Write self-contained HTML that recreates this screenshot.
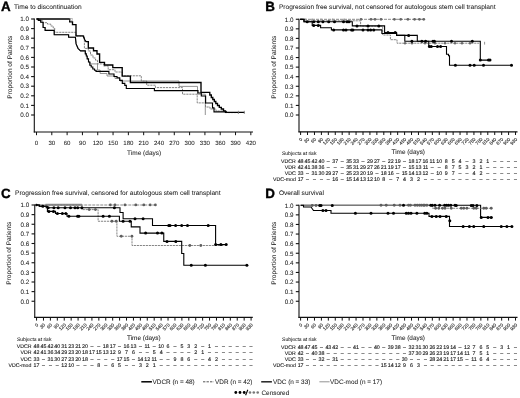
<!DOCTYPE html>
<html><head><meta charset="utf-8"><style>
html,body{margin:0;padding:0;background:#fff;}
svg{display:block;will-change:transform;filter:blur(0.3px);}
text{font-family:"Liberation Sans", sans-serif;text-rendering:geometricPrecision;}
</style></head><body>
<svg width="520" height="398" viewBox="0 0 520 398">
<rect width="520" height="398" fill="#fff"/>
<text x="0.90" y="10.90" font-size="13.4" text-anchor="start" font-weight="bold" fill="#000" stroke="#000" stroke-width="0.35">A</text>
<text x="14.00" y="9.00" font-size="6.6" text-anchor="start" font-weight="normal" fill="#1a1a1a"  stroke="#1a1a1a" stroke-width="0.04">Time to discontinuation</text>
<line x1="34.30" y1="18.50" x2="34.30" y2="132.50" stroke="#111" stroke-width="1.1" />
<line x1="31.10" y1="115.00" x2="34.30" y2="115.00" stroke="#111" stroke-width="1.1" />
<text x="28.90" y="117.25" font-size="6.3" text-anchor="end" font-weight="normal" fill="#1a1a1a"  stroke="#1a1a1a" stroke-width="0.04">0.0</text>
<line x1="31.10" y1="105.40" x2="34.30" y2="105.40" stroke="#111" stroke-width="1.1" />
<text x="28.90" y="107.65" font-size="6.3" text-anchor="end" font-weight="normal" fill="#1a1a1a"  stroke="#1a1a1a" stroke-width="0.04">0.1</text>
<line x1="31.10" y1="95.80" x2="34.30" y2="95.80" stroke="#111" stroke-width="1.1" />
<text x="28.90" y="98.05" font-size="6.3" text-anchor="end" font-weight="normal" fill="#1a1a1a"  stroke="#1a1a1a" stroke-width="0.04">0.2</text>
<line x1="31.10" y1="86.20" x2="34.30" y2="86.20" stroke="#111" stroke-width="1.1" />
<text x="28.90" y="88.45" font-size="6.3" text-anchor="end" font-weight="normal" fill="#1a1a1a"  stroke="#1a1a1a" stroke-width="0.04">0.3</text>
<line x1="31.10" y1="76.60" x2="34.30" y2="76.60" stroke="#111" stroke-width="1.1" />
<text x="28.90" y="78.85" font-size="6.3" text-anchor="end" font-weight="normal" fill="#1a1a1a"  stroke="#1a1a1a" stroke-width="0.04">0.4</text>
<line x1="31.10" y1="67.00" x2="34.30" y2="67.00" stroke="#111" stroke-width="1.1" />
<text x="28.90" y="69.25" font-size="6.3" text-anchor="end" font-weight="normal" fill="#1a1a1a"  stroke="#1a1a1a" stroke-width="0.04">0.5</text>
<line x1="31.10" y1="57.40" x2="34.30" y2="57.40" stroke="#111" stroke-width="1.1" />
<text x="28.90" y="59.65" font-size="6.3" text-anchor="end" font-weight="normal" fill="#1a1a1a"  stroke="#1a1a1a" stroke-width="0.04">0.6</text>
<line x1="31.10" y1="47.80" x2="34.30" y2="47.80" stroke="#111" stroke-width="1.1" />
<text x="28.90" y="50.05" font-size="6.3" text-anchor="end" font-weight="normal" fill="#1a1a1a"  stroke="#1a1a1a" stroke-width="0.04">0.7</text>
<line x1="31.10" y1="38.20" x2="34.30" y2="38.20" stroke="#111" stroke-width="1.1" />
<text x="28.90" y="40.45" font-size="6.3" text-anchor="end" font-weight="normal" fill="#1a1a1a"  stroke="#1a1a1a" stroke-width="0.04">0.8</text>
<line x1="31.10" y1="28.60" x2="34.30" y2="28.60" stroke="#111" stroke-width="1.1" />
<text x="28.90" y="30.85" font-size="6.3" text-anchor="end" font-weight="normal" fill="#1a1a1a"  stroke="#1a1a1a" stroke-width="0.04">0.9</text>
<line x1="31.10" y1="19.00" x2="34.30" y2="19.00" stroke="#111" stroke-width="1.1" />
<text x="28.90" y="21.25" font-size="6.3" text-anchor="end" font-weight="normal" fill="#1a1a1a"  stroke="#1a1a1a" stroke-width="0.04">1.0</text>
<text x="12.30" y="67.20" font-size="6.55" text-anchor="middle" font-weight="normal" fill="#1a1a1a" transform="rotate(-90 12.30 67.20)" stroke="#1a1a1a" stroke-width="0.04">Proportion of Patients</text>
<line x1="33.80" y1="132.00" x2="253.00" y2="132.00" stroke="#111" stroke-width="1.2" />
<line x1="36.50" y1="132.00" x2="36.50" y2="135.20" stroke="#111" stroke-width="1.0" />
<text x="36.50" y="144.60" font-size="6.1" text-anchor="middle" font-weight="normal" fill="#1a1a1a"  stroke="#1a1a1a" stroke-width="0.04">0</text>
<line x1="51.81" y1="132.00" x2="51.81" y2="135.20" stroke="#111" stroke-width="1.0" />
<text x="51.81" y="144.60" font-size="6.1" text-anchor="middle" font-weight="normal" fill="#1a1a1a"  stroke="#1a1a1a" stroke-width="0.04">30</text>
<line x1="67.12" y1="132.00" x2="67.12" y2="135.20" stroke="#111" stroke-width="1.0" />
<text x="67.12" y="144.60" font-size="6.1" text-anchor="middle" font-weight="normal" fill="#1a1a1a"  stroke="#1a1a1a" stroke-width="0.04">60</text>
<line x1="82.43" y1="132.00" x2="82.43" y2="135.20" stroke="#111" stroke-width="1.0" />
<text x="82.43" y="144.60" font-size="6.1" text-anchor="middle" font-weight="normal" fill="#1a1a1a"  stroke="#1a1a1a" stroke-width="0.04">90</text>
<line x1="97.74" y1="132.00" x2="97.74" y2="135.20" stroke="#111" stroke-width="1.0" />
<text x="97.74" y="144.60" font-size="6.1" text-anchor="middle" font-weight="normal" fill="#1a1a1a"  stroke="#1a1a1a" stroke-width="0.04">120</text>
<line x1="113.05" y1="132.00" x2="113.05" y2="135.20" stroke="#111" stroke-width="1.0" />
<text x="113.05" y="144.60" font-size="6.1" text-anchor="middle" font-weight="normal" fill="#1a1a1a"  stroke="#1a1a1a" stroke-width="0.04">150</text>
<line x1="128.36" y1="132.00" x2="128.36" y2="135.20" stroke="#111" stroke-width="1.0" />
<text x="128.36" y="144.60" font-size="6.1" text-anchor="middle" font-weight="normal" fill="#1a1a1a"  stroke="#1a1a1a" stroke-width="0.04">180</text>
<line x1="143.67" y1="132.00" x2="143.67" y2="135.20" stroke="#111" stroke-width="1.0" />
<text x="143.67" y="144.60" font-size="6.1" text-anchor="middle" font-weight="normal" fill="#1a1a1a"  stroke="#1a1a1a" stroke-width="0.04">210</text>
<line x1="158.98" y1="132.00" x2="158.98" y2="135.20" stroke="#111" stroke-width="1.0" />
<text x="158.98" y="144.60" font-size="6.1" text-anchor="middle" font-weight="normal" fill="#1a1a1a"  stroke="#1a1a1a" stroke-width="0.04">240</text>
<line x1="174.29" y1="132.00" x2="174.29" y2="135.20" stroke="#111" stroke-width="1.0" />
<text x="174.29" y="144.60" font-size="6.1" text-anchor="middle" font-weight="normal" fill="#1a1a1a"  stroke="#1a1a1a" stroke-width="0.04">270</text>
<line x1="189.60" y1="132.00" x2="189.60" y2="135.20" stroke="#111" stroke-width="1.0" />
<text x="189.60" y="144.60" font-size="6.1" text-anchor="middle" font-weight="normal" fill="#1a1a1a"  stroke="#1a1a1a" stroke-width="0.04">300</text>
<line x1="204.91" y1="132.00" x2="204.91" y2="135.20" stroke="#111" stroke-width="1.0" />
<text x="204.91" y="144.60" font-size="6.1" text-anchor="middle" font-weight="normal" fill="#1a1a1a"  stroke="#1a1a1a" stroke-width="0.04">330</text>
<line x1="220.22" y1="132.00" x2="220.22" y2="135.20" stroke="#111" stroke-width="1.0" />
<text x="220.22" y="144.60" font-size="6.1" text-anchor="middle" font-weight="normal" fill="#1a1a1a"  stroke="#1a1a1a" stroke-width="0.04">360</text>
<line x1="235.53" y1="132.00" x2="235.53" y2="135.20" stroke="#111" stroke-width="1.0" />
<text x="235.53" y="144.60" font-size="6.1" text-anchor="middle" font-weight="normal" fill="#1a1a1a"  stroke="#1a1a1a" stroke-width="0.04">390</text>
<line x1="250.84" y1="132.00" x2="250.84" y2="135.20" stroke="#111" stroke-width="1.0" />
<text x="250.84" y="144.60" font-size="6.1" text-anchor="middle" font-weight="normal" fill="#1a1a1a"  stroke="#1a1a1a" stroke-width="0.04">420</text>
<text x="144.15" y="154.70" font-size="6.5" text-anchor="middle" font-weight="normal" fill="#1a1a1a"  stroke="#1a1a1a" stroke-width="0.04">Time (days)</text>
<text x="265.20" y="10.90" font-size="13.4" text-anchor="start" font-weight="bold" fill="#000" stroke="#000" stroke-width="0.35">B</text>
<text x="278.90" y="9.00" font-size="6.6" text-anchor="start" font-weight="normal" fill="#1a1a1a"  stroke="#1a1a1a" stroke-width="0.04">Progression free survival, not censored for autologous stem cell transplant</text>
<line x1="299.00" y1="18.75" x2="299.00" y2="132.30" stroke="#111" stroke-width="1.1" />
<line x1="295.80" y1="115.00" x2="299.00" y2="115.00" stroke="#111" stroke-width="1.1" />
<text x="293.60" y="117.25" font-size="6.3" text-anchor="end" font-weight="normal" fill="#1a1a1a"  stroke="#1a1a1a" stroke-width="0.04">0.0</text>
<line x1="295.80" y1="105.42" x2="299.00" y2="105.42" stroke="#111" stroke-width="1.1" />
<text x="293.60" y="107.67" font-size="6.3" text-anchor="end" font-weight="normal" fill="#1a1a1a"  stroke="#1a1a1a" stroke-width="0.04">0.1</text>
<line x1="295.80" y1="95.85" x2="299.00" y2="95.85" stroke="#111" stroke-width="1.1" />
<text x="293.60" y="98.10" font-size="6.3" text-anchor="end" font-weight="normal" fill="#1a1a1a"  stroke="#1a1a1a" stroke-width="0.04">0.2</text>
<line x1="295.80" y1="86.28" x2="299.00" y2="86.28" stroke="#111" stroke-width="1.1" />
<text x="293.60" y="88.53" font-size="6.3" text-anchor="end" font-weight="normal" fill="#1a1a1a"  stroke="#1a1a1a" stroke-width="0.04">0.3</text>
<line x1="295.80" y1="76.70" x2="299.00" y2="76.70" stroke="#111" stroke-width="1.1" />
<text x="293.60" y="78.95" font-size="6.3" text-anchor="end" font-weight="normal" fill="#1a1a1a"  stroke="#1a1a1a" stroke-width="0.04">0.4</text>
<line x1="295.80" y1="67.12" x2="299.00" y2="67.12" stroke="#111" stroke-width="1.1" />
<text x="293.60" y="69.38" font-size="6.3" text-anchor="end" font-weight="normal" fill="#1a1a1a"  stroke="#1a1a1a" stroke-width="0.04">0.5</text>
<line x1="295.80" y1="57.55" x2="299.00" y2="57.55" stroke="#111" stroke-width="1.1" />
<text x="293.60" y="59.80" font-size="6.3" text-anchor="end" font-weight="normal" fill="#1a1a1a"  stroke="#1a1a1a" stroke-width="0.04">0.6</text>
<line x1="295.80" y1="47.97" x2="299.00" y2="47.97" stroke="#111" stroke-width="1.1" />
<text x="293.60" y="50.22" font-size="6.3" text-anchor="end" font-weight="normal" fill="#1a1a1a"  stroke="#1a1a1a" stroke-width="0.04">0.7</text>
<line x1="295.80" y1="38.40" x2="299.00" y2="38.40" stroke="#111" stroke-width="1.1" />
<text x="293.60" y="40.65" font-size="6.3" text-anchor="end" font-weight="normal" fill="#1a1a1a"  stroke="#1a1a1a" stroke-width="0.04">0.8</text>
<line x1="295.80" y1="28.83" x2="299.00" y2="28.83" stroke="#111" stroke-width="1.1" />
<text x="293.60" y="31.08" font-size="6.3" text-anchor="end" font-weight="normal" fill="#1a1a1a"  stroke="#1a1a1a" stroke-width="0.04">0.9</text>
<line x1="295.80" y1="19.25" x2="299.00" y2="19.25" stroke="#111" stroke-width="1.1" />
<text x="293.60" y="21.50" font-size="6.3" text-anchor="end" font-weight="normal" fill="#1a1a1a"  stroke="#1a1a1a" stroke-width="0.04">1.0</text>
<text x="276.00" y="67.20" font-size="6.55" text-anchor="middle" font-weight="normal" fill="#1a1a1a" transform="rotate(-90 276.00 67.20)" stroke="#1a1a1a" stroke-width="0.04">Proportion of Patients</text>
<line x1="298.50" y1="131.80" x2="517.50" y2="131.80" stroke="#111" stroke-width="1.2" />
<line x1="300.60" y1="131.80" x2="300.60" y2="135.00" stroke="#111" stroke-width="1.0" />
<text x="302.60" y="139.60" font-size="4.7" text-anchor="end" font-weight="normal" fill="#3a3a3a" stroke="#3a3a3a" stroke-width="0.15" transform="rotate(-45 302.60 139.60)">0</text>
<line x1="307.53" y1="131.80" x2="307.53" y2="135.00" stroke="#111" stroke-width="1.0" />
<text x="309.53" y="139.60" font-size="4.7" text-anchor="end" font-weight="normal" fill="#3a3a3a" stroke="#3a3a3a" stroke-width="0.15" transform="rotate(-45 309.53 139.60)">30</text>
<line x1="314.47" y1="131.80" x2="314.47" y2="135.00" stroke="#111" stroke-width="1.0" />
<text x="316.47" y="139.60" font-size="4.7" text-anchor="end" font-weight="normal" fill="#3a3a3a" stroke="#3a3a3a" stroke-width="0.15" transform="rotate(-45 316.47 139.60)">60</text>
<line x1="321.40" y1="131.80" x2="321.40" y2="135.00" stroke="#111" stroke-width="1.0" />
<text x="323.40" y="139.60" font-size="4.7" text-anchor="end" font-weight="normal" fill="#3a3a3a" stroke="#3a3a3a" stroke-width="0.15" transform="rotate(-45 323.40 139.60)">90</text>
<line x1="328.33" y1="131.80" x2="328.33" y2="135.00" stroke="#111" stroke-width="1.0" />
<text x="330.33" y="139.60" font-size="4.7" text-anchor="end" font-weight="normal" fill="#3a3a3a" stroke="#3a3a3a" stroke-width="0.15" transform="rotate(-45 330.33 139.60)">120</text>
<line x1="335.27" y1="131.80" x2="335.27" y2="135.00" stroke="#111" stroke-width="1.0" />
<text x="337.27" y="139.60" font-size="4.7" text-anchor="end" font-weight="normal" fill="#3a3a3a" stroke="#3a3a3a" stroke-width="0.15" transform="rotate(-45 337.27 139.60)">150</text>
<line x1="342.20" y1="131.80" x2="342.20" y2="135.00" stroke="#111" stroke-width="1.0" />
<text x="344.20" y="139.60" font-size="4.7" text-anchor="end" font-weight="normal" fill="#3a3a3a" stroke="#3a3a3a" stroke-width="0.15" transform="rotate(-45 344.20 139.60)">180</text>
<line x1="349.13" y1="131.80" x2="349.13" y2="135.00" stroke="#111" stroke-width="1.0" />
<text x="351.13" y="139.60" font-size="4.7" text-anchor="end" font-weight="normal" fill="#3a3a3a" stroke="#3a3a3a" stroke-width="0.15" transform="rotate(-45 351.13 139.60)">210</text>
<line x1="356.06" y1="131.80" x2="356.06" y2="135.00" stroke="#111" stroke-width="1.0" />
<text x="358.06" y="139.60" font-size="4.7" text-anchor="end" font-weight="normal" fill="#3a3a3a" stroke="#3a3a3a" stroke-width="0.15" transform="rotate(-45 358.06 139.60)">240</text>
<line x1="363.00" y1="131.80" x2="363.00" y2="135.00" stroke="#111" stroke-width="1.0" />
<text x="365.00" y="139.60" font-size="4.7" text-anchor="end" font-weight="normal" fill="#3a3a3a" stroke="#3a3a3a" stroke-width="0.15" transform="rotate(-45 365.00 139.60)">270</text>
<line x1="369.93" y1="131.80" x2="369.93" y2="135.00" stroke="#111" stroke-width="1.0" />
<text x="371.93" y="139.60" font-size="4.7" text-anchor="end" font-weight="normal" fill="#3a3a3a" stroke="#3a3a3a" stroke-width="0.15" transform="rotate(-45 371.93 139.60)">300</text>
<line x1="376.86" y1="131.80" x2="376.86" y2="135.00" stroke="#111" stroke-width="1.0" />
<text x="378.86" y="139.60" font-size="4.7" text-anchor="end" font-weight="normal" fill="#3a3a3a" stroke="#3a3a3a" stroke-width="0.15" transform="rotate(-45 378.86 139.60)">330</text>
<line x1="383.80" y1="131.80" x2="383.80" y2="135.00" stroke="#111" stroke-width="1.0" />
<text x="385.80" y="139.60" font-size="4.7" text-anchor="end" font-weight="normal" fill="#3a3a3a" stroke="#3a3a3a" stroke-width="0.15" transform="rotate(-45 385.80 139.60)">360</text>
<line x1="390.73" y1="131.80" x2="390.73" y2="135.00" stroke="#111" stroke-width="1.0" />
<text x="392.73" y="139.60" font-size="4.7" text-anchor="end" font-weight="normal" fill="#3a3a3a" stroke="#3a3a3a" stroke-width="0.15" transform="rotate(-45 392.73 139.60)">390</text>
<line x1="397.66" y1="131.80" x2="397.66" y2="135.00" stroke="#111" stroke-width="1.0" />
<text x="399.66" y="139.60" font-size="4.7" text-anchor="end" font-weight="normal" fill="#3a3a3a" stroke="#3a3a3a" stroke-width="0.15" transform="rotate(-45 399.66 139.60)">420</text>
<line x1="404.60" y1="131.80" x2="404.60" y2="135.00" stroke="#111" stroke-width="1.0" />
<text x="406.60" y="139.60" font-size="4.7" text-anchor="end" font-weight="normal" fill="#3a3a3a" stroke="#3a3a3a" stroke-width="0.15" transform="rotate(-45 406.60 139.60)">450</text>
<line x1="411.53" y1="131.80" x2="411.53" y2="135.00" stroke="#111" stroke-width="1.0" />
<text x="413.53" y="139.60" font-size="4.7" text-anchor="end" font-weight="normal" fill="#3a3a3a" stroke="#3a3a3a" stroke-width="0.15" transform="rotate(-45 413.53 139.60)">480</text>
<line x1="418.46" y1="131.80" x2="418.46" y2="135.00" stroke="#111" stroke-width="1.0" />
<text x="420.46" y="139.60" font-size="4.7" text-anchor="end" font-weight="normal" fill="#3a3a3a" stroke="#3a3a3a" stroke-width="0.15" transform="rotate(-45 420.46 139.60)">510</text>
<line x1="425.39" y1="131.80" x2="425.39" y2="135.00" stroke="#111" stroke-width="1.0" />
<text x="427.39" y="139.60" font-size="4.7" text-anchor="end" font-weight="normal" fill="#3a3a3a" stroke="#3a3a3a" stroke-width="0.15" transform="rotate(-45 427.39 139.60)">540</text>
<line x1="432.33" y1="131.80" x2="432.33" y2="135.00" stroke="#111" stroke-width="1.0" />
<text x="434.33" y="139.60" font-size="4.7" text-anchor="end" font-weight="normal" fill="#3a3a3a" stroke="#3a3a3a" stroke-width="0.15" transform="rotate(-45 434.33 139.60)">570</text>
<line x1="439.26" y1="131.80" x2="439.26" y2="135.00" stroke="#111" stroke-width="1.0" />
<text x="441.26" y="139.60" font-size="4.7" text-anchor="end" font-weight="normal" fill="#3a3a3a" stroke="#3a3a3a" stroke-width="0.15" transform="rotate(-45 441.26 139.60)">600</text>
<line x1="446.19" y1="131.80" x2="446.19" y2="135.00" stroke="#111" stroke-width="1.0" />
<text x="448.19" y="139.60" font-size="4.7" text-anchor="end" font-weight="normal" fill="#3a3a3a" stroke="#3a3a3a" stroke-width="0.15" transform="rotate(-45 448.19 139.60)">630</text>
<line x1="453.13" y1="131.80" x2="453.13" y2="135.00" stroke="#111" stroke-width="1.0" />
<text x="455.13" y="139.60" font-size="4.7" text-anchor="end" font-weight="normal" fill="#3a3a3a" stroke="#3a3a3a" stroke-width="0.15" transform="rotate(-45 455.13 139.60)">660</text>
<line x1="460.06" y1="131.80" x2="460.06" y2="135.00" stroke="#111" stroke-width="1.0" />
<text x="462.06" y="139.60" font-size="4.7" text-anchor="end" font-weight="normal" fill="#3a3a3a" stroke="#3a3a3a" stroke-width="0.15" transform="rotate(-45 462.06 139.60)">690</text>
<line x1="466.99" y1="131.80" x2="466.99" y2="135.00" stroke="#111" stroke-width="1.0" />
<text x="468.99" y="139.60" font-size="4.7" text-anchor="end" font-weight="normal" fill="#3a3a3a" stroke="#3a3a3a" stroke-width="0.15" transform="rotate(-45 468.99 139.60)">720</text>
<line x1="473.93" y1="131.80" x2="473.93" y2="135.00" stroke="#111" stroke-width="1.0" />
<text x="475.93" y="139.60" font-size="4.7" text-anchor="end" font-weight="normal" fill="#3a3a3a" stroke="#3a3a3a" stroke-width="0.15" transform="rotate(-45 475.93 139.60)">750</text>
<line x1="480.86" y1="131.80" x2="480.86" y2="135.00" stroke="#111" stroke-width="1.0" />
<text x="482.86" y="139.60" font-size="4.7" text-anchor="end" font-weight="normal" fill="#3a3a3a" stroke="#3a3a3a" stroke-width="0.15" transform="rotate(-45 482.86 139.60)">780</text>
<line x1="487.79" y1="131.80" x2="487.79" y2="135.00" stroke="#111" stroke-width="1.0" />
<text x="489.79" y="139.60" font-size="4.7" text-anchor="end" font-weight="normal" fill="#3a3a3a" stroke="#3a3a3a" stroke-width="0.15" transform="rotate(-45 489.79 139.60)">810</text>
<line x1="494.72" y1="131.80" x2="494.72" y2="135.00" stroke="#111" stroke-width="1.0" />
<text x="496.72" y="139.60" font-size="4.7" text-anchor="end" font-weight="normal" fill="#3a3a3a" stroke="#3a3a3a" stroke-width="0.15" transform="rotate(-45 496.72 139.60)">840</text>
<line x1="501.66" y1="131.80" x2="501.66" y2="135.00" stroke="#111" stroke-width="1.0" />
<text x="503.66" y="139.60" font-size="4.7" text-anchor="end" font-weight="normal" fill="#3a3a3a" stroke="#3a3a3a" stroke-width="0.15" transform="rotate(-45 503.66 139.60)">870</text>
<line x1="508.59" y1="131.80" x2="508.59" y2="135.00" stroke="#111" stroke-width="1.0" />
<text x="510.59" y="139.60" font-size="4.7" text-anchor="end" font-weight="normal" fill="#3a3a3a" stroke="#3a3a3a" stroke-width="0.15" transform="rotate(-45 510.59 139.60)">900</text>
<line x1="515.52" y1="131.80" x2="515.52" y2="135.00" stroke="#111" stroke-width="1.0" />
<text x="517.52" y="139.60" font-size="4.7" text-anchor="end" font-weight="normal" fill="#3a3a3a" stroke="#3a3a3a" stroke-width="0.15" transform="rotate(-45 517.52 139.60)">930</text>
<text x="408.25" y="154.40" font-size="6.4" text-anchor="middle" font-weight="normal" fill="#1a1a1a"  stroke="#1a1a1a" stroke-width="0.04">Time (days)</text>
<text x="0.90" y="198.30" font-size="13.4" text-anchor="start" font-weight="bold" fill="#000" stroke="#000" stroke-width="0.35">C</text>
<text x="15.00" y="195.20" font-size="6.6" text-anchor="start" font-weight="normal" fill="#1a1a1a"  stroke="#1a1a1a" stroke-width="0.04">Progression free survival, censored for autologous stem cell transplant</text>
<line x1="34.75" y1="204.50" x2="34.75" y2="317.90" stroke="#111" stroke-width="1.1" />
<line x1="31.55" y1="301.25" x2="34.75" y2="301.25" stroke="#111" stroke-width="1.1" />
<text x="29.35" y="303.50" font-size="6.3" text-anchor="end" font-weight="normal" fill="#1a1a1a"  stroke="#1a1a1a" stroke-width="0.04">0.0</text>
<line x1="31.55" y1="291.62" x2="34.75" y2="291.62" stroke="#111" stroke-width="1.1" />
<text x="29.35" y="293.88" font-size="6.3" text-anchor="end" font-weight="normal" fill="#1a1a1a"  stroke="#1a1a1a" stroke-width="0.04">0.1</text>
<line x1="31.55" y1="282.00" x2="34.75" y2="282.00" stroke="#111" stroke-width="1.1" />
<text x="29.35" y="284.25" font-size="6.3" text-anchor="end" font-weight="normal" fill="#1a1a1a"  stroke="#1a1a1a" stroke-width="0.04">0.2</text>
<line x1="31.55" y1="272.38" x2="34.75" y2="272.38" stroke="#111" stroke-width="1.1" />
<text x="29.35" y="274.62" font-size="6.3" text-anchor="end" font-weight="normal" fill="#1a1a1a"  stroke="#1a1a1a" stroke-width="0.04">0.3</text>
<line x1="31.55" y1="262.75" x2="34.75" y2="262.75" stroke="#111" stroke-width="1.1" />
<text x="29.35" y="265.00" font-size="6.3" text-anchor="end" font-weight="normal" fill="#1a1a1a"  stroke="#1a1a1a" stroke-width="0.04">0.4</text>
<line x1="31.55" y1="253.12" x2="34.75" y2="253.12" stroke="#111" stroke-width="1.1" />
<text x="29.35" y="255.38" font-size="6.3" text-anchor="end" font-weight="normal" fill="#1a1a1a"  stroke="#1a1a1a" stroke-width="0.04">0.5</text>
<line x1="31.55" y1="243.50" x2="34.75" y2="243.50" stroke="#111" stroke-width="1.1" />
<text x="29.35" y="245.75" font-size="6.3" text-anchor="end" font-weight="normal" fill="#1a1a1a"  stroke="#1a1a1a" stroke-width="0.04">0.6</text>
<line x1="31.55" y1="233.88" x2="34.75" y2="233.88" stroke="#111" stroke-width="1.1" />
<text x="29.35" y="236.12" font-size="6.3" text-anchor="end" font-weight="normal" fill="#1a1a1a"  stroke="#1a1a1a" stroke-width="0.04">0.7</text>
<line x1="31.55" y1="224.25" x2="34.75" y2="224.25" stroke="#111" stroke-width="1.1" />
<text x="29.35" y="226.50" font-size="6.3" text-anchor="end" font-weight="normal" fill="#1a1a1a"  stroke="#1a1a1a" stroke-width="0.04">0.8</text>
<line x1="31.55" y1="214.62" x2="34.75" y2="214.62" stroke="#111" stroke-width="1.1" />
<text x="29.35" y="216.88" font-size="6.3" text-anchor="end" font-weight="normal" fill="#1a1a1a"  stroke="#1a1a1a" stroke-width="0.04">0.9</text>
<line x1="31.55" y1="205.00" x2="34.75" y2="205.00" stroke="#111" stroke-width="1.1" />
<text x="29.35" y="207.25" font-size="6.3" text-anchor="end" font-weight="normal" fill="#1a1a1a"  stroke="#1a1a1a" stroke-width="0.04">1.0</text>
<text x="11.40" y="253.20" font-size="6.55" text-anchor="middle" font-weight="normal" fill="#1a1a1a" transform="rotate(-90 11.40 253.20)" stroke="#1a1a1a" stroke-width="0.04">Proportion of Patients</text>
<line x1="34.25" y1="317.40" x2="252.80" y2="317.40" stroke="#111" stroke-width="1.2" />
<line x1="36.56" y1="317.40" x2="36.56" y2="320.60" stroke="#111" stroke-width="1.0" />
<text x="38.56" y="325.20" font-size="4.7" text-anchor="end" font-weight="normal" fill="#3a3a3a" stroke="#3a3a3a" stroke-width="0.15" transform="rotate(-45 38.56 325.20)">0</text>
<line x1="43.48" y1="317.40" x2="43.48" y2="320.60" stroke="#111" stroke-width="1.0" />
<text x="45.48" y="325.20" font-size="4.7" text-anchor="end" font-weight="normal" fill="#3a3a3a" stroke="#3a3a3a" stroke-width="0.15" transform="rotate(-45 45.48 325.20)">30</text>
<line x1="50.40" y1="317.40" x2="50.40" y2="320.60" stroke="#111" stroke-width="1.0" />
<text x="52.40" y="325.20" font-size="4.7" text-anchor="end" font-weight="normal" fill="#3a3a3a" stroke="#3a3a3a" stroke-width="0.15" transform="rotate(-45 52.40 325.20)">60</text>
<line x1="57.32" y1="317.40" x2="57.32" y2="320.60" stroke="#111" stroke-width="1.0" />
<text x="59.32" y="325.20" font-size="4.7" text-anchor="end" font-weight="normal" fill="#3a3a3a" stroke="#3a3a3a" stroke-width="0.15" transform="rotate(-45 59.32 325.20)">90</text>
<line x1="64.24" y1="317.40" x2="64.24" y2="320.60" stroke="#111" stroke-width="1.0" />
<text x="66.24" y="325.20" font-size="4.7" text-anchor="end" font-weight="normal" fill="#3a3a3a" stroke="#3a3a3a" stroke-width="0.15" transform="rotate(-45 66.24 325.20)">120</text>
<line x1="71.16" y1="317.40" x2="71.16" y2="320.60" stroke="#111" stroke-width="1.0" />
<text x="73.16" y="325.20" font-size="4.7" text-anchor="end" font-weight="normal" fill="#3a3a3a" stroke="#3a3a3a" stroke-width="0.15" transform="rotate(-45 73.16 325.20)">150</text>
<line x1="78.08" y1="317.40" x2="78.08" y2="320.60" stroke="#111" stroke-width="1.0" />
<text x="80.08" y="325.20" font-size="4.7" text-anchor="end" font-weight="normal" fill="#3a3a3a" stroke="#3a3a3a" stroke-width="0.15" transform="rotate(-45 80.08 325.20)">180</text>
<line x1="85.00" y1="317.40" x2="85.00" y2="320.60" stroke="#111" stroke-width="1.0" />
<text x="87.00" y="325.20" font-size="4.7" text-anchor="end" font-weight="normal" fill="#3a3a3a" stroke="#3a3a3a" stroke-width="0.15" transform="rotate(-45 87.00 325.20)">210</text>
<line x1="91.92" y1="317.40" x2="91.92" y2="320.60" stroke="#111" stroke-width="1.0" />
<text x="93.92" y="325.20" font-size="4.7" text-anchor="end" font-weight="normal" fill="#3a3a3a" stroke="#3a3a3a" stroke-width="0.15" transform="rotate(-45 93.92 325.20)">240</text>
<line x1="98.84" y1="317.40" x2="98.84" y2="320.60" stroke="#111" stroke-width="1.0" />
<text x="100.84" y="325.20" font-size="4.7" text-anchor="end" font-weight="normal" fill="#3a3a3a" stroke="#3a3a3a" stroke-width="0.15" transform="rotate(-45 100.84 325.20)">270</text>
<line x1="105.76" y1="317.40" x2="105.76" y2="320.60" stroke="#111" stroke-width="1.0" />
<text x="107.76" y="325.20" font-size="4.7" text-anchor="end" font-weight="normal" fill="#3a3a3a" stroke="#3a3a3a" stroke-width="0.15" transform="rotate(-45 107.76 325.20)">300</text>
<line x1="112.68" y1="317.40" x2="112.68" y2="320.60" stroke="#111" stroke-width="1.0" />
<text x="114.68" y="325.20" font-size="4.7" text-anchor="end" font-weight="normal" fill="#3a3a3a" stroke="#3a3a3a" stroke-width="0.15" transform="rotate(-45 114.68 325.20)">330</text>
<line x1="119.60" y1="317.40" x2="119.60" y2="320.60" stroke="#111" stroke-width="1.0" />
<text x="121.60" y="325.20" font-size="4.7" text-anchor="end" font-weight="normal" fill="#3a3a3a" stroke="#3a3a3a" stroke-width="0.15" transform="rotate(-45 121.60 325.20)">360</text>
<line x1="126.52" y1="317.40" x2="126.52" y2="320.60" stroke="#111" stroke-width="1.0" />
<text x="128.52" y="325.20" font-size="4.7" text-anchor="end" font-weight="normal" fill="#3a3a3a" stroke="#3a3a3a" stroke-width="0.15" transform="rotate(-45 128.52 325.20)">390</text>
<line x1="133.44" y1="317.40" x2="133.44" y2="320.60" stroke="#111" stroke-width="1.0" />
<text x="135.44" y="325.20" font-size="4.7" text-anchor="end" font-weight="normal" fill="#3a3a3a" stroke="#3a3a3a" stroke-width="0.15" transform="rotate(-45 135.44 325.20)">420</text>
<line x1="140.36" y1="317.40" x2="140.36" y2="320.60" stroke="#111" stroke-width="1.0" />
<text x="142.36" y="325.20" font-size="4.7" text-anchor="end" font-weight="normal" fill="#3a3a3a" stroke="#3a3a3a" stroke-width="0.15" transform="rotate(-45 142.36 325.20)">450</text>
<line x1="147.28" y1="317.40" x2="147.28" y2="320.60" stroke="#111" stroke-width="1.0" />
<text x="149.28" y="325.20" font-size="4.7" text-anchor="end" font-weight="normal" fill="#3a3a3a" stroke="#3a3a3a" stroke-width="0.15" transform="rotate(-45 149.28 325.20)">480</text>
<line x1="154.20" y1="317.40" x2="154.20" y2="320.60" stroke="#111" stroke-width="1.0" />
<text x="156.20" y="325.20" font-size="4.7" text-anchor="end" font-weight="normal" fill="#3a3a3a" stroke="#3a3a3a" stroke-width="0.15" transform="rotate(-45 156.20 325.20)">510</text>
<line x1="161.12" y1="317.40" x2="161.12" y2="320.60" stroke="#111" stroke-width="1.0" />
<text x="163.12" y="325.20" font-size="4.7" text-anchor="end" font-weight="normal" fill="#3a3a3a" stroke="#3a3a3a" stroke-width="0.15" transform="rotate(-45 163.12 325.20)">540</text>
<line x1="168.04" y1="317.40" x2="168.04" y2="320.60" stroke="#111" stroke-width="1.0" />
<text x="170.04" y="325.20" font-size="4.7" text-anchor="end" font-weight="normal" fill="#3a3a3a" stroke="#3a3a3a" stroke-width="0.15" transform="rotate(-45 170.04 325.20)">570</text>
<line x1="174.96" y1="317.40" x2="174.96" y2="320.60" stroke="#111" stroke-width="1.0" />
<text x="176.96" y="325.20" font-size="4.7" text-anchor="end" font-weight="normal" fill="#3a3a3a" stroke="#3a3a3a" stroke-width="0.15" transform="rotate(-45 176.96 325.20)">600</text>
<line x1="181.88" y1="317.40" x2="181.88" y2="320.60" stroke="#111" stroke-width="1.0" />
<text x="183.88" y="325.20" font-size="4.7" text-anchor="end" font-weight="normal" fill="#3a3a3a" stroke="#3a3a3a" stroke-width="0.15" transform="rotate(-45 183.88 325.20)">630</text>
<line x1="188.80" y1="317.40" x2="188.80" y2="320.60" stroke="#111" stroke-width="1.0" />
<text x="190.80" y="325.20" font-size="4.7" text-anchor="end" font-weight="normal" fill="#3a3a3a" stroke="#3a3a3a" stroke-width="0.15" transform="rotate(-45 190.80 325.20)">660</text>
<line x1="195.72" y1="317.40" x2="195.72" y2="320.60" stroke="#111" stroke-width="1.0" />
<text x="197.72" y="325.20" font-size="4.7" text-anchor="end" font-weight="normal" fill="#3a3a3a" stroke="#3a3a3a" stroke-width="0.15" transform="rotate(-45 197.72 325.20)">690</text>
<line x1="202.64" y1="317.40" x2="202.64" y2="320.60" stroke="#111" stroke-width="1.0" />
<text x="204.64" y="325.20" font-size="4.7" text-anchor="end" font-weight="normal" fill="#3a3a3a" stroke="#3a3a3a" stroke-width="0.15" transform="rotate(-45 204.64 325.20)">720</text>
<line x1="209.56" y1="317.40" x2="209.56" y2="320.60" stroke="#111" stroke-width="1.0" />
<text x="211.56" y="325.20" font-size="4.7" text-anchor="end" font-weight="normal" fill="#3a3a3a" stroke="#3a3a3a" stroke-width="0.15" transform="rotate(-45 211.56 325.20)">750</text>
<line x1="216.48" y1="317.40" x2="216.48" y2="320.60" stroke="#111" stroke-width="1.0" />
<text x="218.48" y="325.20" font-size="4.7" text-anchor="end" font-weight="normal" fill="#3a3a3a" stroke="#3a3a3a" stroke-width="0.15" transform="rotate(-45 218.48 325.20)">780</text>
<line x1="223.40" y1="317.40" x2="223.40" y2="320.60" stroke="#111" stroke-width="1.0" />
<text x="225.40" y="325.20" font-size="4.7" text-anchor="end" font-weight="normal" fill="#3a3a3a" stroke="#3a3a3a" stroke-width="0.15" transform="rotate(-45 225.40 325.20)">810</text>
<line x1="230.32" y1="317.40" x2="230.32" y2="320.60" stroke="#111" stroke-width="1.0" />
<text x="232.32" y="325.20" font-size="4.7" text-anchor="end" font-weight="normal" fill="#3a3a3a" stroke="#3a3a3a" stroke-width="0.15" transform="rotate(-45 232.32 325.20)">840</text>
<line x1="237.24" y1="317.40" x2="237.24" y2="320.60" stroke="#111" stroke-width="1.0" />
<text x="239.24" y="325.20" font-size="4.7" text-anchor="end" font-weight="normal" fill="#3a3a3a" stroke="#3a3a3a" stroke-width="0.15" transform="rotate(-45 239.24 325.20)">870</text>
<line x1="244.16" y1="317.40" x2="244.16" y2="320.60" stroke="#111" stroke-width="1.0" />
<text x="246.16" y="325.20" font-size="4.7" text-anchor="end" font-weight="normal" fill="#3a3a3a" stroke="#3a3a3a" stroke-width="0.15" transform="rotate(-45 246.16 325.20)">900</text>
<line x1="251.08" y1="317.40" x2="251.08" y2="320.60" stroke="#111" stroke-width="1.0" />
<text x="253.08" y="325.20" font-size="4.7" text-anchor="end" font-weight="normal" fill="#3a3a3a" stroke="#3a3a3a" stroke-width="0.15" transform="rotate(-45 253.08 325.20)">930</text>
<text x="143.78" y="340.00" font-size="6.4" text-anchor="middle" font-weight="normal" fill="#1a1a1a"  stroke="#1a1a1a" stroke-width="0.04">Time (days)</text>
<text x="265.20" y="198.30" font-size="13.4" text-anchor="start" font-weight="bold" fill="#000" stroke="#000" stroke-width="0.35">D</text>
<text x="278.90" y="195.20" font-size="6.6" text-anchor="start" font-weight="normal" fill="#1a1a1a"  stroke="#1a1a1a" stroke-width="0.04">Overall survival</text>
<line x1="299.00" y1="204.75" x2="299.00" y2="317.90" stroke="#111" stroke-width="1.1" />
<line x1="295.80" y1="301.25" x2="299.00" y2="301.25" stroke="#111" stroke-width="1.1" />
<text x="293.60" y="303.50" font-size="6.3" text-anchor="end" font-weight="normal" fill="#1a1a1a"  stroke="#1a1a1a" stroke-width="0.04">0.0</text>
<line x1="295.80" y1="291.65" x2="299.00" y2="291.65" stroke="#111" stroke-width="1.1" />
<text x="293.60" y="293.90" font-size="6.3" text-anchor="end" font-weight="normal" fill="#1a1a1a"  stroke="#1a1a1a" stroke-width="0.04">0.1</text>
<line x1="295.80" y1="282.05" x2="299.00" y2="282.05" stroke="#111" stroke-width="1.1" />
<text x="293.60" y="284.30" font-size="6.3" text-anchor="end" font-weight="normal" fill="#1a1a1a"  stroke="#1a1a1a" stroke-width="0.04">0.2</text>
<line x1="295.80" y1="272.45" x2="299.00" y2="272.45" stroke="#111" stroke-width="1.1" />
<text x="293.60" y="274.70" font-size="6.3" text-anchor="end" font-weight="normal" fill="#1a1a1a"  stroke="#1a1a1a" stroke-width="0.04">0.3</text>
<line x1="295.80" y1="262.85" x2="299.00" y2="262.85" stroke="#111" stroke-width="1.1" />
<text x="293.60" y="265.10" font-size="6.3" text-anchor="end" font-weight="normal" fill="#1a1a1a"  stroke="#1a1a1a" stroke-width="0.04">0.4</text>
<line x1="295.80" y1="253.25" x2="299.00" y2="253.25" stroke="#111" stroke-width="1.1" />
<text x="293.60" y="255.50" font-size="6.3" text-anchor="end" font-weight="normal" fill="#1a1a1a"  stroke="#1a1a1a" stroke-width="0.04">0.5</text>
<line x1="295.80" y1="243.65" x2="299.00" y2="243.65" stroke="#111" stroke-width="1.1" />
<text x="293.60" y="245.90" font-size="6.3" text-anchor="end" font-weight="normal" fill="#1a1a1a"  stroke="#1a1a1a" stroke-width="0.04">0.6</text>
<line x1="295.80" y1="234.05" x2="299.00" y2="234.05" stroke="#111" stroke-width="1.1" />
<text x="293.60" y="236.30" font-size="6.3" text-anchor="end" font-weight="normal" fill="#1a1a1a"  stroke="#1a1a1a" stroke-width="0.04">0.7</text>
<line x1="295.80" y1="224.45" x2="299.00" y2="224.45" stroke="#111" stroke-width="1.1" />
<text x="293.60" y="226.70" font-size="6.3" text-anchor="end" font-weight="normal" fill="#1a1a1a"  stroke="#1a1a1a" stroke-width="0.04">0.8</text>
<line x1="295.80" y1="214.85" x2="299.00" y2="214.85" stroke="#111" stroke-width="1.1" />
<text x="293.60" y="217.10" font-size="6.3" text-anchor="end" font-weight="normal" fill="#1a1a1a"  stroke="#1a1a1a" stroke-width="0.04">0.9</text>
<line x1="295.80" y1="205.25" x2="299.00" y2="205.25" stroke="#111" stroke-width="1.1" />
<text x="293.60" y="207.50" font-size="6.3" text-anchor="end" font-weight="normal" fill="#1a1a1a"  stroke="#1a1a1a" stroke-width="0.04">1.0</text>
<text x="276.40" y="253.20" font-size="6.55" text-anchor="middle" font-weight="normal" fill="#1a1a1a" transform="rotate(-90 276.40 253.20)" stroke="#1a1a1a" stroke-width="0.04">Proportion of Patients</text>
<line x1="298.50" y1="317.40" x2="517.50" y2="317.40" stroke="#111" stroke-width="1.2" />
<line x1="300.60" y1="317.40" x2="300.60" y2="320.60" stroke="#111" stroke-width="1.0" />
<text x="302.60" y="325.20" font-size="4.7" text-anchor="end" font-weight="normal" fill="#3a3a3a" stroke="#3a3a3a" stroke-width="0.15" transform="rotate(-45 302.60 325.20)">0</text>
<line x1="307.53" y1="317.40" x2="307.53" y2="320.60" stroke="#111" stroke-width="1.0" />
<text x="309.53" y="325.20" font-size="4.7" text-anchor="end" font-weight="normal" fill="#3a3a3a" stroke="#3a3a3a" stroke-width="0.15" transform="rotate(-45 309.53 325.20)">30</text>
<line x1="314.47" y1="317.40" x2="314.47" y2="320.60" stroke="#111" stroke-width="1.0" />
<text x="316.47" y="325.20" font-size="4.7" text-anchor="end" font-weight="normal" fill="#3a3a3a" stroke="#3a3a3a" stroke-width="0.15" transform="rotate(-45 316.47 325.20)">60</text>
<line x1="321.40" y1="317.40" x2="321.40" y2="320.60" stroke="#111" stroke-width="1.0" />
<text x="323.40" y="325.20" font-size="4.7" text-anchor="end" font-weight="normal" fill="#3a3a3a" stroke="#3a3a3a" stroke-width="0.15" transform="rotate(-45 323.40 325.20)">90</text>
<line x1="328.33" y1="317.40" x2="328.33" y2="320.60" stroke="#111" stroke-width="1.0" />
<text x="330.33" y="325.20" font-size="4.7" text-anchor="end" font-weight="normal" fill="#3a3a3a" stroke="#3a3a3a" stroke-width="0.15" transform="rotate(-45 330.33 325.20)">120</text>
<line x1="335.27" y1="317.40" x2="335.27" y2="320.60" stroke="#111" stroke-width="1.0" />
<text x="337.27" y="325.20" font-size="4.7" text-anchor="end" font-weight="normal" fill="#3a3a3a" stroke="#3a3a3a" stroke-width="0.15" transform="rotate(-45 337.27 325.20)">150</text>
<line x1="342.20" y1="317.40" x2="342.20" y2="320.60" stroke="#111" stroke-width="1.0" />
<text x="344.20" y="325.20" font-size="4.7" text-anchor="end" font-weight="normal" fill="#3a3a3a" stroke="#3a3a3a" stroke-width="0.15" transform="rotate(-45 344.20 325.20)">180</text>
<line x1="349.13" y1="317.40" x2="349.13" y2="320.60" stroke="#111" stroke-width="1.0" />
<text x="351.13" y="325.20" font-size="4.7" text-anchor="end" font-weight="normal" fill="#3a3a3a" stroke="#3a3a3a" stroke-width="0.15" transform="rotate(-45 351.13 325.20)">210</text>
<line x1="356.06" y1="317.40" x2="356.06" y2="320.60" stroke="#111" stroke-width="1.0" />
<text x="358.06" y="325.20" font-size="4.7" text-anchor="end" font-weight="normal" fill="#3a3a3a" stroke="#3a3a3a" stroke-width="0.15" transform="rotate(-45 358.06 325.20)">240</text>
<line x1="363.00" y1="317.40" x2="363.00" y2="320.60" stroke="#111" stroke-width="1.0" />
<text x="365.00" y="325.20" font-size="4.7" text-anchor="end" font-weight="normal" fill="#3a3a3a" stroke="#3a3a3a" stroke-width="0.15" transform="rotate(-45 365.00 325.20)">270</text>
<line x1="369.93" y1="317.40" x2="369.93" y2="320.60" stroke="#111" stroke-width="1.0" />
<text x="371.93" y="325.20" font-size="4.7" text-anchor="end" font-weight="normal" fill="#3a3a3a" stroke="#3a3a3a" stroke-width="0.15" transform="rotate(-45 371.93 325.20)">300</text>
<line x1="376.86" y1="317.40" x2="376.86" y2="320.60" stroke="#111" stroke-width="1.0" />
<text x="378.86" y="325.20" font-size="4.7" text-anchor="end" font-weight="normal" fill="#3a3a3a" stroke="#3a3a3a" stroke-width="0.15" transform="rotate(-45 378.86 325.20)">330</text>
<line x1="383.80" y1="317.40" x2="383.80" y2="320.60" stroke="#111" stroke-width="1.0" />
<text x="385.80" y="325.20" font-size="4.7" text-anchor="end" font-weight="normal" fill="#3a3a3a" stroke="#3a3a3a" stroke-width="0.15" transform="rotate(-45 385.80 325.20)">360</text>
<line x1="390.73" y1="317.40" x2="390.73" y2="320.60" stroke="#111" stroke-width="1.0" />
<text x="392.73" y="325.20" font-size="4.7" text-anchor="end" font-weight="normal" fill="#3a3a3a" stroke="#3a3a3a" stroke-width="0.15" transform="rotate(-45 392.73 325.20)">390</text>
<line x1="397.66" y1="317.40" x2="397.66" y2="320.60" stroke="#111" stroke-width="1.0" />
<text x="399.66" y="325.20" font-size="4.7" text-anchor="end" font-weight="normal" fill="#3a3a3a" stroke="#3a3a3a" stroke-width="0.15" transform="rotate(-45 399.66 325.20)">420</text>
<line x1="404.60" y1="317.40" x2="404.60" y2="320.60" stroke="#111" stroke-width="1.0" />
<text x="406.60" y="325.20" font-size="4.7" text-anchor="end" font-weight="normal" fill="#3a3a3a" stroke="#3a3a3a" stroke-width="0.15" transform="rotate(-45 406.60 325.20)">450</text>
<line x1="411.53" y1="317.40" x2="411.53" y2="320.60" stroke="#111" stroke-width="1.0" />
<text x="413.53" y="325.20" font-size="4.7" text-anchor="end" font-weight="normal" fill="#3a3a3a" stroke="#3a3a3a" stroke-width="0.15" transform="rotate(-45 413.53 325.20)">480</text>
<line x1="418.46" y1="317.40" x2="418.46" y2="320.60" stroke="#111" stroke-width="1.0" />
<text x="420.46" y="325.20" font-size="4.7" text-anchor="end" font-weight="normal" fill="#3a3a3a" stroke="#3a3a3a" stroke-width="0.15" transform="rotate(-45 420.46 325.20)">510</text>
<line x1="425.39" y1="317.40" x2="425.39" y2="320.60" stroke="#111" stroke-width="1.0" />
<text x="427.39" y="325.20" font-size="4.7" text-anchor="end" font-weight="normal" fill="#3a3a3a" stroke="#3a3a3a" stroke-width="0.15" transform="rotate(-45 427.39 325.20)">540</text>
<line x1="432.33" y1="317.40" x2="432.33" y2="320.60" stroke="#111" stroke-width="1.0" />
<text x="434.33" y="325.20" font-size="4.7" text-anchor="end" font-weight="normal" fill="#3a3a3a" stroke="#3a3a3a" stroke-width="0.15" transform="rotate(-45 434.33 325.20)">570</text>
<line x1="439.26" y1="317.40" x2="439.26" y2="320.60" stroke="#111" stroke-width="1.0" />
<text x="441.26" y="325.20" font-size="4.7" text-anchor="end" font-weight="normal" fill="#3a3a3a" stroke="#3a3a3a" stroke-width="0.15" transform="rotate(-45 441.26 325.20)">600</text>
<line x1="446.19" y1="317.40" x2="446.19" y2="320.60" stroke="#111" stroke-width="1.0" />
<text x="448.19" y="325.20" font-size="4.7" text-anchor="end" font-weight="normal" fill="#3a3a3a" stroke="#3a3a3a" stroke-width="0.15" transform="rotate(-45 448.19 325.20)">630</text>
<line x1="453.13" y1="317.40" x2="453.13" y2="320.60" stroke="#111" stroke-width="1.0" />
<text x="455.13" y="325.20" font-size="4.7" text-anchor="end" font-weight="normal" fill="#3a3a3a" stroke="#3a3a3a" stroke-width="0.15" transform="rotate(-45 455.13 325.20)">660</text>
<line x1="460.06" y1="317.40" x2="460.06" y2="320.60" stroke="#111" stroke-width="1.0" />
<text x="462.06" y="325.20" font-size="4.7" text-anchor="end" font-weight="normal" fill="#3a3a3a" stroke="#3a3a3a" stroke-width="0.15" transform="rotate(-45 462.06 325.20)">690</text>
<line x1="466.99" y1="317.40" x2="466.99" y2="320.60" stroke="#111" stroke-width="1.0" />
<text x="468.99" y="325.20" font-size="4.7" text-anchor="end" font-weight="normal" fill="#3a3a3a" stroke="#3a3a3a" stroke-width="0.15" transform="rotate(-45 468.99 325.20)">720</text>
<line x1="473.93" y1="317.40" x2="473.93" y2="320.60" stroke="#111" stroke-width="1.0" />
<text x="475.93" y="325.20" font-size="4.7" text-anchor="end" font-weight="normal" fill="#3a3a3a" stroke="#3a3a3a" stroke-width="0.15" transform="rotate(-45 475.93 325.20)">750</text>
<line x1="480.86" y1="317.40" x2="480.86" y2="320.60" stroke="#111" stroke-width="1.0" />
<text x="482.86" y="325.20" font-size="4.7" text-anchor="end" font-weight="normal" fill="#3a3a3a" stroke="#3a3a3a" stroke-width="0.15" transform="rotate(-45 482.86 325.20)">780</text>
<line x1="487.79" y1="317.40" x2="487.79" y2="320.60" stroke="#111" stroke-width="1.0" />
<text x="489.79" y="325.20" font-size="4.7" text-anchor="end" font-weight="normal" fill="#3a3a3a" stroke="#3a3a3a" stroke-width="0.15" transform="rotate(-45 489.79 325.20)">810</text>
<line x1="494.72" y1="317.40" x2="494.72" y2="320.60" stroke="#111" stroke-width="1.0" />
<text x="496.72" y="325.20" font-size="4.7" text-anchor="end" font-weight="normal" fill="#3a3a3a" stroke="#3a3a3a" stroke-width="0.15" transform="rotate(-45 496.72 325.20)">840</text>
<line x1="501.66" y1="317.40" x2="501.66" y2="320.60" stroke="#111" stroke-width="1.0" />
<text x="503.66" y="325.20" font-size="4.7" text-anchor="end" font-weight="normal" fill="#3a3a3a" stroke="#3a3a3a" stroke-width="0.15" transform="rotate(-45 503.66 325.20)">870</text>
<line x1="508.59" y1="317.40" x2="508.59" y2="320.60" stroke="#111" stroke-width="1.0" />
<text x="510.59" y="325.20" font-size="4.7" text-anchor="end" font-weight="normal" fill="#3a3a3a" stroke="#3a3a3a" stroke-width="0.15" transform="rotate(-45 510.59 325.20)">900</text>
<line x1="515.52" y1="317.40" x2="515.52" y2="320.60" stroke="#111" stroke-width="1.0" />
<text x="517.52" y="325.20" font-size="4.7" text-anchor="end" font-weight="normal" fill="#3a3a3a" stroke="#3a3a3a" stroke-width="0.15" transform="rotate(-45 517.52 325.20)">930</text>
<text x="408.25" y="340.00" font-size="6.4" text-anchor="middle" font-weight="normal" fill="#1a1a1a"  stroke="#1a1a1a" stroke-width="0.04">Time (days)</text>
<text x="281.90" y="154.95" font-size="5.1" text-anchor="start" font-weight="normal" fill="#1a1a1a"  stroke="#1a1a1a" stroke-width="0.04">Subjects at risk</text>
<text x="295.80" y="162.90" font-size="5.2" text-anchor="end" font-weight="normal" fill="#1a1a1a" stroke="#1a1a1a" stroke-width="0.1">VDCR</text>
<text x="300.60" y="162.90" font-size="5.3" text-anchor="middle" font-weight="normal" fill="#1a1a1a" stroke="#1a1a1a" stroke-width="0.13">48</text>
<text x="307.53" y="162.90" font-size="5.3" text-anchor="middle" font-weight="normal" fill="#1a1a1a" stroke="#1a1a1a" stroke-width="0.13">45</text>
<text x="314.47" y="162.90" font-size="5.3" text-anchor="middle" font-weight="normal" fill="#1a1a1a" stroke="#1a1a1a" stroke-width="0.13">42</text>
<text x="321.40" y="162.90" font-size="5.3" text-anchor="middle" font-weight="normal" fill="#1a1a1a" stroke="#1a1a1a" stroke-width="0.13">40</text>
<text x="328.33" y="162.90" font-size="5.3" text-anchor="middle" font-weight="normal" fill="#1a1a1a" stroke="#1a1a1a" stroke-width="0.13">–</text>
<text x="335.27" y="162.90" font-size="5.3" text-anchor="middle" font-weight="normal" fill="#1a1a1a" stroke="#1a1a1a" stroke-width="0.13">37</text>
<text x="342.20" y="162.90" font-size="5.3" text-anchor="middle" font-weight="normal" fill="#1a1a1a" stroke="#1a1a1a" stroke-width="0.13">–</text>
<text x="349.13" y="162.90" font-size="5.3" text-anchor="middle" font-weight="normal" fill="#1a1a1a" stroke="#1a1a1a" stroke-width="0.13">35</text>
<text x="356.06" y="162.90" font-size="5.3" text-anchor="middle" font-weight="normal" fill="#1a1a1a" stroke="#1a1a1a" stroke-width="0.13">33</text>
<text x="363.00" y="162.90" font-size="5.3" text-anchor="middle" font-weight="normal" fill="#1a1a1a" stroke="#1a1a1a" stroke-width="0.13">–</text>
<text x="369.93" y="162.90" font-size="5.3" text-anchor="middle" font-weight="normal" fill="#1a1a1a" stroke="#1a1a1a" stroke-width="0.13">29</text>
<text x="376.86" y="162.90" font-size="5.3" text-anchor="middle" font-weight="normal" fill="#1a1a1a" stroke="#1a1a1a" stroke-width="0.13">27</text>
<text x="383.80" y="162.90" font-size="5.3" text-anchor="middle" font-weight="normal" fill="#1a1a1a" stroke="#1a1a1a" stroke-width="0.13">–</text>
<text x="390.73" y="162.90" font-size="5.3" text-anchor="middle" font-weight="normal" fill="#1a1a1a" stroke="#1a1a1a" stroke-width="0.13">22</text>
<text x="397.66" y="162.90" font-size="5.3" text-anchor="middle" font-weight="normal" fill="#1a1a1a" stroke="#1a1a1a" stroke-width="0.13">19</text>
<text x="404.60" y="162.90" font-size="5.3" text-anchor="middle" font-weight="normal" fill="#1a1a1a" stroke="#1a1a1a" stroke-width="0.13">–</text>
<text x="411.53" y="162.90" font-size="5.3" text-anchor="middle" font-weight="normal" fill="#1a1a1a" stroke="#1a1a1a" stroke-width="0.13">18</text>
<text x="418.46" y="162.90" font-size="5.3" text-anchor="middle" font-weight="normal" fill="#1a1a1a" stroke="#1a1a1a" stroke-width="0.13">17</text>
<text x="425.39" y="162.90" font-size="5.3" text-anchor="middle" font-weight="normal" fill="#1a1a1a" stroke="#1a1a1a" stroke-width="0.13">16</text>
<text x="432.33" y="162.90" font-size="5.3" text-anchor="middle" font-weight="normal" fill="#1a1a1a" stroke="#1a1a1a" stroke-width="0.13">11</text>
<text x="439.26" y="162.90" font-size="5.3" text-anchor="middle" font-weight="normal" fill="#1a1a1a" stroke="#1a1a1a" stroke-width="0.13">10</text>
<text x="446.19" y="162.90" font-size="5.3" text-anchor="middle" font-weight="normal" fill="#1a1a1a" stroke="#1a1a1a" stroke-width="0.13">8</text>
<text x="453.13" y="162.90" font-size="5.3" text-anchor="middle" font-weight="normal" fill="#1a1a1a" stroke="#1a1a1a" stroke-width="0.13">5</text>
<text x="460.06" y="162.90" font-size="5.3" text-anchor="middle" font-weight="normal" fill="#1a1a1a" stroke="#1a1a1a" stroke-width="0.13">4</text>
<text x="466.99" y="162.90" font-size="5.3" text-anchor="middle" font-weight="normal" fill="#1a1a1a" stroke="#1a1a1a" stroke-width="0.13">–</text>
<text x="473.93" y="162.90" font-size="5.3" text-anchor="middle" font-weight="normal" fill="#1a1a1a" stroke="#1a1a1a" stroke-width="0.13">3</text>
<text x="480.86" y="162.90" font-size="5.3" text-anchor="middle" font-weight="normal" fill="#1a1a1a" stroke="#1a1a1a" stroke-width="0.13">2</text>
<text x="487.79" y="162.90" font-size="5.3" text-anchor="middle" font-weight="normal" fill="#1a1a1a" stroke="#1a1a1a" stroke-width="0.13">1</text>
<text x="494.72" y="162.90" font-size="5.3" text-anchor="middle" font-weight="normal" fill="#1a1a1a" stroke="#1a1a1a" stroke-width="0.13">–</text>
<text x="501.66" y="162.90" font-size="5.3" text-anchor="middle" font-weight="normal" fill="#1a1a1a" stroke="#1a1a1a" stroke-width="0.13">–</text>
<text x="508.59" y="162.90" font-size="5.3" text-anchor="middle" font-weight="normal" fill="#1a1a1a" stroke="#1a1a1a" stroke-width="0.13">–</text>
<text x="515.52" y="162.90" font-size="5.3" text-anchor="middle" font-weight="normal" fill="#1a1a1a" stroke="#1a1a1a" stroke-width="0.13">–</text>
<text x="295.80" y="168.90" font-size="5.2" text-anchor="end" font-weight="normal" fill="#1a1a1a" stroke="#1a1a1a" stroke-width="0.1">VDR</text>
<text x="300.60" y="168.90" font-size="5.3" text-anchor="middle" font-weight="normal" fill="#1a1a1a" stroke="#1a1a1a" stroke-width="0.13">42</text>
<text x="307.53" y="168.90" font-size="5.3" text-anchor="middle" font-weight="normal" fill="#1a1a1a" stroke="#1a1a1a" stroke-width="0.13">41</text>
<text x="314.47" y="168.90" font-size="5.3" text-anchor="middle" font-weight="normal" fill="#1a1a1a" stroke="#1a1a1a" stroke-width="0.13">38</text>
<text x="321.40" y="168.90" font-size="5.3" text-anchor="middle" font-weight="normal" fill="#1a1a1a" stroke="#1a1a1a" stroke-width="0.13">36</text>
<text x="328.33" y="168.90" font-size="5.3" text-anchor="middle" font-weight="normal" fill="#1a1a1a" stroke="#1a1a1a" stroke-width="0.13">–</text>
<text x="335.27" y="168.90" font-size="5.3" text-anchor="middle" font-weight="normal" fill="#1a1a1a" stroke="#1a1a1a" stroke-width="0.13">–</text>
<text x="342.20" y="168.90" font-size="5.3" text-anchor="middle" font-weight="normal" fill="#1a1a1a" stroke="#1a1a1a" stroke-width="0.13">–</text>
<text x="349.13" y="168.90" font-size="5.3" text-anchor="middle" font-weight="normal" fill="#1a1a1a" stroke="#1a1a1a" stroke-width="0.13">35</text>
<text x="356.06" y="168.90" font-size="5.3" text-anchor="middle" font-weight="normal" fill="#1a1a1a" stroke="#1a1a1a" stroke-width="0.13">31</text>
<text x="363.00" y="168.90" font-size="5.3" text-anchor="middle" font-weight="normal" fill="#1a1a1a" stroke="#1a1a1a" stroke-width="0.13">29</text>
<text x="369.93" y="168.90" font-size="5.3" text-anchor="middle" font-weight="normal" fill="#1a1a1a" stroke="#1a1a1a" stroke-width="0.13">27</text>
<text x="376.86" y="168.90" font-size="5.3" text-anchor="middle" font-weight="normal" fill="#1a1a1a" stroke="#1a1a1a" stroke-width="0.13">26</text>
<text x="383.80" y="168.90" font-size="5.3" text-anchor="middle" font-weight="normal" fill="#1a1a1a" stroke="#1a1a1a" stroke-width="0.13">21</text>
<text x="390.73" y="168.90" font-size="5.3" text-anchor="middle" font-weight="normal" fill="#1a1a1a" stroke="#1a1a1a" stroke-width="0.13">19</text>
<text x="397.66" y="168.90" font-size="5.3" text-anchor="middle" font-weight="normal" fill="#1a1a1a" stroke="#1a1a1a" stroke-width="0.13">17</text>
<text x="404.60" y="168.90" font-size="5.3" text-anchor="middle" font-weight="normal" fill="#1a1a1a" stroke="#1a1a1a" stroke-width="0.13">–</text>
<text x="411.53" y="168.90" font-size="5.3" text-anchor="middle" font-weight="normal" fill="#1a1a1a" stroke="#1a1a1a" stroke-width="0.13">15</text>
<text x="418.46" y="168.90" font-size="5.3" text-anchor="middle" font-weight="normal" fill="#1a1a1a" stroke="#1a1a1a" stroke-width="0.13">13</text>
<text x="425.39" y="168.90" font-size="5.3" text-anchor="middle" font-weight="normal" fill="#1a1a1a" stroke="#1a1a1a" stroke-width="0.13">11</text>
<text x="432.33" y="168.90" font-size="5.3" text-anchor="middle" font-weight="normal" fill="#1a1a1a" stroke="#1a1a1a" stroke-width="0.13">–</text>
<text x="439.26" y="168.90" font-size="5.3" text-anchor="middle" font-weight="normal" fill="#1a1a1a" stroke="#1a1a1a" stroke-width="0.13">–</text>
<text x="446.19" y="168.90" font-size="5.3" text-anchor="middle" font-weight="normal" fill="#1a1a1a" stroke="#1a1a1a" stroke-width="0.13">8</text>
<text x="453.13" y="168.90" font-size="5.3" text-anchor="middle" font-weight="normal" fill="#1a1a1a" stroke="#1a1a1a" stroke-width="0.13">7</text>
<text x="460.06" y="168.90" font-size="5.3" text-anchor="middle" font-weight="normal" fill="#1a1a1a" stroke="#1a1a1a" stroke-width="0.13">5</text>
<text x="466.99" y="168.90" font-size="5.3" text-anchor="middle" font-weight="normal" fill="#1a1a1a" stroke="#1a1a1a" stroke-width="0.13">3</text>
<text x="473.93" y="168.90" font-size="5.3" text-anchor="middle" font-weight="normal" fill="#1a1a1a" stroke="#1a1a1a" stroke-width="0.13">2</text>
<text x="480.86" y="168.90" font-size="5.3" text-anchor="middle" font-weight="normal" fill="#1a1a1a" stroke="#1a1a1a" stroke-width="0.13">1</text>
<text x="487.79" y="168.90" font-size="5.3" text-anchor="middle" font-weight="normal" fill="#1a1a1a" stroke="#1a1a1a" stroke-width="0.13">–</text>
<text x="494.72" y="168.90" font-size="5.3" text-anchor="middle" font-weight="normal" fill="#1a1a1a" stroke="#1a1a1a" stroke-width="0.13">–</text>
<text x="501.66" y="168.90" font-size="5.3" text-anchor="middle" font-weight="normal" fill="#1a1a1a" stroke="#1a1a1a" stroke-width="0.13">–</text>
<text x="508.59" y="168.90" font-size="5.3" text-anchor="middle" font-weight="normal" fill="#1a1a1a" stroke="#1a1a1a" stroke-width="0.13">–</text>
<text x="515.52" y="168.90" font-size="5.3" text-anchor="middle" font-weight="normal" fill="#1a1a1a" stroke="#1a1a1a" stroke-width="0.13">–</text>
<text x="295.80" y="174.90" font-size="5.2" text-anchor="end" font-weight="normal" fill="#1a1a1a" stroke="#1a1a1a" stroke-width="0.1">VDC</text>
<text x="300.60" y="174.90" font-size="5.3" text-anchor="middle" font-weight="normal" fill="#1a1a1a" stroke="#1a1a1a" stroke-width="0.13">33</text>
<text x="307.53" y="174.90" font-size="5.3" text-anchor="middle" font-weight="normal" fill="#1a1a1a" stroke="#1a1a1a" stroke-width="0.13">–</text>
<text x="314.47" y="174.90" font-size="5.3" text-anchor="middle" font-weight="normal" fill="#1a1a1a" stroke="#1a1a1a" stroke-width="0.13">31</text>
<text x="321.40" y="174.90" font-size="5.3" text-anchor="middle" font-weight="normal" fill="#1a1a1a" stroke="#1a1a1a" stroke-width="0.13">30</text>
<text x="328.33" y="174.90" font-size="5.3" text-anchor="middle" font-weight="normal" fill="#1a1a1a" stroke="#1a1a1a" stroke-width="0.13">29</text>
<text x="335.27" y="174.90" font-size="5.3" text-anchor="middle" font-weight="normal" fill="#1a1a1a" stroke="#1a1a1a" stroke-width="0.13">27</text>
<text x="342.20" y="174.90" font-size="5.3" text-anchor="middle" font-weight="normal" fill="#1a1a1a" stroke="#1a1a1a" stroke-width="0.13">–</text>
<text x="349.13" y="174.90" font-size="5.3" text-anchor="middle" font-weight="normal" fill="#1a1a1a" stroke="#1a1a1a" stroke-width="0.13">25</text>
<text x="356.06" y="174.90" font-size="5.3" text-anchor="middle" font-weight="normal" fill="#1a1a1a" stroke="#1a1a1a" stroke-width="0.13">23</text>
<text x="363.00" y="174.90" font-size="5.3" text-anchor="middle" font-weight="normal" fill="#1a1a1a" stroke="#1a1a1a" stroke-width="0.13">20</text>
<text x="369.93" y="174.90" font-size="5.3" text-anchor="middle" font-weight="normal" fill="#1a1a1a" stroke="#1a1a1a" stroke-width="0.13">19</text>
<text x="376.86" y="174.90" font-size="5.3" text-anchor="middle" font-weight="normal" fill="#1a1a1a" stroke="#1a1a1a" stroke-width="0.13">–</text>
<text x="383.80" y="174.90" font-size="5.3" text-anchor="middle" font-weight="normal" fill="#1a1a1a" stroke="#1a1a1a" stroke-width="0.13">18</text>
<text x="390.73" y="174.90" font-size="5.3" text-anchor="middle" font-weight="normal" fill="#1a1a1a" stroke="#1a1a1a" stroke-width="0.13">16</text>
<text x="397.66" y="174.90" font-size="5.3" text-anchor="middle" font-weight="normal" fill="#1a1a1a" stroke="#1a1a1a" stroke-width="0.13">–</text>
<text x="404.60" y="174.90" font-size="5.3" text-anchor="middle" font-weight="normal" fill="#1a1a1a" stroke="#1a1a1a" stroke-width="0.13">15</text>
<text x="411.53" y="174.90" font-size="5.3" text-anchor="middle" font-weight="normal" fill="#1a1a1a" stroke="#1a1a1a" stroke-width="0.13">14</text>
<text x="418.46" y="174.90" font-size="5.3" text-anchor="middle" font-weight="normal" fill="#1a1a1a" stroke="#1a1a1a" stroke-width="0.13">13</text>
<text x="425.39" y="174.90" font-size="5.3" text-anchor="middle" font-weight="normal" fill="#1a1a1a" stroke="#1a1a1a" stroke-width="0.13">12</text>
<text x="432.33" y="174.90" font-size="5.3" text-anchor="middle" font-weight="normal" fill="#1a1a1a" stroke="#1a1a1a" stroke-width="0.13">–</text>
<text x="439.26" y="174.90" font-size="5.3" text-anchor="middle" font-weight="normal" fill="#1a1a1a" stroke="#1a1a1a" stroke-width="0.13">10</text>
<text x="446.19" y="174.90" font-size="5.3" text-anchor="middle" font-weight="normal" fill="#1a1a1a" stroke="#1a1a1a" stroke-width="0.13">9</text>
<text x="453.13" y="174.90" font-size="5.3" text-anchor="middle" font-weight="normal" fill="#1a1a1a" stroke="#1a1a1a" stroke-width="0.13">7</text>
<text x="460.06" y="174.90" font-size="5.3" text-anchor="middle" font-weight="normal" fill="#1a1a1a" stroke="#1a1a1a" stroke-width="0.13">–</text>
<text x="466.99" y="174.90" font-size="5.3" text-anchor="middle" font-weight="normal" fill="#1a1a1a" stroke="#1a1a1a" stroke-width="0.13">–</text>
<text x="473.93" y="174.90" font-size="5.3" text-anchor="middle" font-weight="normal" fill="#1a1a1a" stroke="#1a1a1a" stroke-width="0.13">4</text>
<text x="480.86" y="174.90" font-size="5.3" text-anchor="middle" font-weight="normal" fill="#1a1a1a" stroke="#1a1a1a" stroke-width="0.13">2</text>
<text x="487.79" y="174.90" font-size="5.3" text-anchor="middle" font-weight="normal" fill="#1a1a1a" stroke="#1a1a1a" stroke-width="0.13">–</text>
<text x="494.72" y="174.90" font-size="5.3" text-anchor="middle" font-weight="normal" fill="#1a1a1a" stroke="#1a1a1a" stroke-width="0.13">–</text>
<text x="501.66" y="174.90" font-size="5.3" text-anchor="middle" font-weight="normal" fill="#1a1a1a" stroke="#1a1a1a" stroke-width="0.13">–</text>
<text x="508.59" y="174.90" font-size="5.3" text-anchor="middle" font-weight="normal" fill="#1a1a1a" stroke="#1a1a1a" stroke-width="0.13">–</text>
<text x="515.52" y="174.90" font-size="5.3" text-anchor="middle" font-weight="normal" fill="#1a1a1a" stroke="#1a1a1a" stroke-width="0.13">–</text>
<text x="295.80" y="181.00" font-size="5.2" text-anchor="end" font-weight="normal" fill="#1a1a1a" stroke="#1a1a1a" stroke-width="0.1">VDC-mod</text>
<text x="300.60" y="181.00" font-size="5.3" text-anchor="middle" font-weight="normal" fill="#1a1a1a" stroke="#1a1a1a" stroke-width="0.13">17</text>
<text x="307.53" y="181.00" font-size="5.3" text-anchor="middle" font-weight="normal" fill="#1a1a1a" stroke="#1a1a1a" stroke-width="0.13">–</text>
<text x="314.47" y="181.00" font-size="5.3" text-anchor="middle" font-weight="normal" fill="#1a1a1a" stroke="#1a1a1a" stroke-width="0.13">–</text>
<text x="321.40" y="181.00" font-size="5.3" text-anchor="middle" font-weight="normal" fill="#1a1a1a" stroke="#1a1a1a" stroke-width="0.13">–</text>
<text x="328.33" y="181.00" font-size="5.3" text-anchor="middle" font-weight="normal" fill="#1a1a1a" stroke="#1a1a1a" stroke-width="0.13">–</text>
<text x="335.27" y="181.00" font-size="5.3" text-anchor="middle" font-weight="normal" fill="#1a1a1a" stroke="#1a1a1a" stroke-width="0.13">16</text>
<text x="342.20" y="181.00" font-size="5.3" text-anchor="middle" font-weight="normal" fill="#1a1a1a" stroke="#1a1a1a" stroke-width="0.13">–</text>
<text x="349.13" y="181.00" font-size="5.3" text-anchor="middle" font-weight="normal" fill="#1a1a1a" stroke="#1a1a1a" stroke-width="0.13">15</text>
<text x="356.06" y="181.00" font-size="5.3" text-anchor="middle" font-weight="normal" fill="#1a1a1a" stroke="#1a1a1a" stroke-width="0.13">14</text>
<text x="363.00" y="181.00" font-size="5.3" text-anchor="middle" font-weight="normal" fill="#1a1a1a" stroke="#1a1a1a" stroke-width="0.13">13</text>
<text x="369.93" y="181.00" font-size="5.3" text-anchor="middle" font-weight="normal" fill="#1a1a1a" stroke="#1a1a1a" stroke-width="0.13">12</text>
<text x="376.86" y="181.00" font-size="5.3" text-anchor="middle" font-weight="normal" fill="#1a1a1a" stroke="#1a1a1a" stroke-width="0.13">10</text>
<text x="383.80" y="181.00" font-size="5.3" text-anchor="middle" font-weight="normal" fill="#1a1a1a" stroke="#1a1a1a" stroke-width="0.13">8</text>
<text x="390.73" y="181.00" font-size="5.3" text-anchor="middle" font-weight="normal" fill="#1a1a1a" stroke="#1a1a1a" stroke-width="0.13">–</text>
<text x="397.66" y="181.00" font-size="5.3" text-anchor="middle" font-weight="normal" fill="#1a1a1a" stroke="#1a1a1a" stroke-width="0.13">7</text>
<text x="404.60" y="181.00" font-size="5.3" text-anchor="middle" font-weight="normal" fill="#1a1a1a" stroke="#1a1a1a" stroke-width="0.13">4</text>
<text x="411.53" y="181.00" font-size="5.3" text-anchor="middle" font-weight="normal" fill="#1a1a1a" stroke="#1a1a1a" stroke-width="0.13">3</text>
<text x="418.46" y="181.00" font-size="5.3" text-anchor="middle" font-weight="normal" fill="#1a1a1a" stroke="#1a1a1a" stroke-width="0.13">2</text>
<text x="425.39" y="181.00" font-size="5.3" text-anchor="middle" font-weight="normal" fill="#1a1a1a" stroke="#1a1a1a" stroke-width="0.13">–</text>
<text x="432.33" y="181.00" font-size="5.3" text-anchor="middle" font-weight="normal" fill="#1a1a1a" stroke="#1a1a1a" stroke-width="0.13">–</text>
<text x="439.26" y="181.00" font-size="5.3" text-anchor="middle" font-weight="normal" fill="#1a1a1a" stroke="#1a1a1a" stroke-width="0.13">–</text>
<text x="446.19" y="181.00" font-size="5.3" text-anchor="middle" font-weight="normal" fill="#1a1a1a" stroke="#1a1a1a" stroke-width="0.13">–</text>
<text x="453.13" y="181.00" font-size="5.3" text-anchor="middle" font-weight="normal" fill="#1a1a1a" stroke="#1a1a1a" stroke-width="0.13">–</text>
<text x="460.06" y="181.00" font-size="5.3" text-anchor="middle" font-weight="normal" fill="#1a1a1a" stroke="#1a1a1a" stroke-width="0.13">–</text>
<text x="466.99" y="181.00" font-size="5.3" text-anchor="middle" font-weight="normal" fill="#1a1a1a" stroke="#1a1a1a" stroke-width="0.13">–</text>
<text x="473.93" y="181.00" font-size="5.3" text-anchor="middle" font-weight="normal" fill="#1a1a1a" stroke="#1a1a1a" stroke-width="0.13">–</text>
<text x="480.86" y="181.00" font-size="5.3" text-anchor="middle" font-weight="normal" fill="#1a1a1a" stroke="#1a1a1a" stroke-width="0.13">–</text>
<text x="487.79" y="181.00" font-size="5.3" text-anchor="middle" font-weight="normal" fill="#1a1a1a" stroke="#1a1a1a" stroke-width="0.13">–</text>
<text x="494.72" y="181.00" font-size="5.3" text-anchor="middle" font-weight="normal" fill="#1a1a1a" stroke="#1a1a1a" stroke-width="0.13">–</text>
<text x="501.66" y="181.00" font-size="5.3" text-anchor="middle" font-weight="normal" fill="#1a1a1a" stroke="#1a1a1a" stroke-width="0.13">–</text>
<text x="508.59" y="181.00" font-size="5.3" text-anchor="middle" font-weight="normal" fill="#1a1a1a" stroke="#1a1a1a" stroke-width="0.13">–</text>
<text x="515.52" y="181.00" font-size="5.3" text-anchor="middle" font-weight="normal" fill="#1a1a1a" stroke="#1a1a1a" stroke-width="0.13">–</text>
<text x="16.90" y="340.85" font-size="5.1" text-anchor="start" font-weight="normal" fill="#1a1a1a"  stroke="#1a1a1a" stroke-width="0.04">Subjects at risk</text>
<text x="31.40" y="348.20" font-size="5.2" text-anchor="end" font-weight="normal" fill="#1a1a1a" stroke="#1a1a1a" stroke-width="0.1">VDCR</text>
<text x="36.56" y="348.20" font-size="5.3" text-anchor="middle" font-weight="normal" fill="#1a1a1a" stroke="#1a1a1a" stroke-width="0.13">48</text>
<text x="43.48" y="348.20" font-size="5.3" text-anchor="middle" font-weight="normal" fill="#1a1a1a" stroke="#1a1a1a" stroke-width="0.13">45</text>
<text x="50.40" y="348.20" font-size="5.3" text-anchor="middle" font-weight="normal" fill="#1a1a1a" stroke="#1a1a1a" stroke-width="0.13">42</text>
<text x="57.32" y="348.20" font-size="5.3" text-anchor="middle" font-weight="normal" fill="#1a1a1a" stroke="#1a1a1a" stroke-width="0.13">40</text>
<text x="64.24" y="348.20" font-size="5.3" text-anchor="middle" font-weight="normal" fill="#1a1a1a" stroke="#1a1a1a" stroke-width="0.13">31</text>
<text x="71.16" y="348.20" font-size="5.3" text-anchor="middle" font-weight="normal" fill="#1a1a1a" stroke="#1a1a1a" stroke-width="0.13">23</text>
<text x="78.08" y="348.20" font-size="5.3" text-anchor="middle" font-weight="normal" fill="#1a1a1a" stroke="#1a1a1a" stroke-width="0.13">21</text>
<text x="85.00" y="348.20" font-size="5.3" text-anchor="middle" font-weight="normal" fill="#1a1a1a" stroke="#1a1a1a" stroke-width="0.13">20</text>
<text x="91.92" y="348.20" font-size="5.3" text-anchor="middle" font-weight="normal" fill="#1a1a1a" stroke="#1a1a1a" stroke-width="0.13">–</text>
<text x="98.84" y="348.20" font-size="5.3" text-anchor="middle" font-weight="normal" fill="#1a1a1a" stroke="#1a1a1a" stroke-width="0.13">–</text>
<text x="105.76" y="348.20" font-size="5.3" text-anchor="middle" font-weight="normal" fill="#1a1a1a" stroke="#1a1a1a" stroke-width="0.13">18</text>
<text x="112.68" y="348.20" font-size="5.3" text-anchor="middle" font-weight="normal" fill="#1a1a1a" stroke="#1a1a1a" stroke-width="0.13">17</text>
<text x="119.60" y="348.20" font-size="5.3" text-anchor="middle" font-weight="normal" fill="#1a1a1a" stroke="#1a1a1a" stroke-width="0.13">–</text>
<text x="126.52" y="348.20" font-size="5.3" text-anchor="middle" font-weight="normal" fill="#1a1a1a" stroke="#1a1a1a" stroke-width="0.13">16</text>
<text x="133.44" y="348.20" font-size="5.3" text-anchor="middle" font-weight="normal" fill="#1a1a1a" stroke="#1a1a1a" stroke-width="0.13">13</text>
<text x="140.36" y="348.20" font-size="5.3" text-anchor="middle" font-weight="normal" fill="#1a1a1a" stroke="#1a1a1a" stroke-width="0.13">–</text>
<text x="147.28" y="348.20" font-size="5.3" text-anchor="middle" font-weight="normal" fill="#1a1a1a" stroke="#1a1a1a" stroke-width="0.13">11</text>
<text x="154.20" y="348.20" font-size="5.3" text-anchor="middle" font-weight="normal" fill="#1a1a1a" stroke="#1a1a1a" stroke-width="0.13">–</text>
<text x="161.12" y="348.20" font-size="5.3" text-anchor="middle" font-weight="normal" fill="#1a1a1a" stroke="#1a1a1a" stroke-width="0.13">10</text>
<text x="168.04" y="348.20" font-size="5.3" text-anchor="middle" font-weight="normal" fill="#1a1a1a" stroke="#1a1a1a" stroke-width="0.13">6</text>
<text x="174.96" y="348.20" font-size="5.3" text-anchor="middle" font-weight="normal" fill="#1a1a1a" stroke="#1a1a1a" stroke-width="0.13">–</text>
<text x="181.88" y="348.20" font-size="5.3" text-anchor="middle" font-weight="normal" fill="#1a1a1a" stroke="#1a1a1a" stroke-width="0.13">5</text>
<text x="188.80" y="348.20" font-size="5.3" text-anchor="middle" font-weight="normal" fill="#1a1a1a" stroke="#1a1a1a" stroke-width="0.13">3</text>
<text x="195.72" y="348.20" font-size="5.3" text-anchor="middle" font-weight="normal" fill="#1a1a1a" stroke="#1a1a1a" stroke-width="0.13">2</text>
<text x="202.64" y="348.20" font-size="5.3" text-anchor="middle" font-weight="normal" fill="#1a1a1a" stroke="#1a1a1a" stroke-width="0.13">–</text>
<text x="209.56" y="348.20" font-size="5.3" text-anchor="middle" font-weight="normal" fill="#1a1a1a" stroke="#1a1a1a" stroke-width="0.13">1</text>
<text x="216.48" y="348.20" font-size="5.3" text-anchor="middle" font-weight="normal" fill="#1a1a1a" stroke="#1a1a1a" stroke-width="0.13">–</text>
<text x="223.40" y="348.20" font-size="5.3" text-anchor="middle" font-weight="normal" fill="#1a1a1a" stroke="#1a1a1a" stroke-width="0.13">–</text>
<text x="230.32" y="348.20" font-size="5.3" text-anchor="middle" font-weight="normal" fill="#1a1a1a" stroke="#1a1a1a" stroke-width="0.13">–</text>
<text x="237.24" y="348.20" font-size="5.3" text-anchor="middle" font-weight="normal" fill="#1a1a1a" stroke="#1a1a1a" stroke-width="0.13">–</text>
<text x="244.16" y="348.20" font-size="5.3" text-anchor="middle" font-weight="normal" fill="#1a1a1a" stroke="#1a1a1a" stroke-width="0.13">–</text>
<text x="251.08" y="348.20" font-size="5.3" text-anchor="middle" font-weight="normal" fill="#1a1a1a" stroke="#1a1a1a" stroke-width="0.13">–</text>
<text x="31.40" y="354.40" font-size="5.2" text-anchor="end" font-weight="normal" fill="#1a1a1a" stroke="#1a1a1a" stroke-width="0.1">VDR</text>
<text x="36.56" y="354.40" font-size="5.3" text-anchor="middle" font-weight="normal" fill="#1a1a1a" stroke="#1a1a1a" stroke-width="0.13">42</text>
<text x="43.48" y="354.40" font-size="5.3" text-anchor="middle" font-weight="normal" fill="#1a1a1a" stroke="#1a1a1a" stroke-width="0.13">41</text>
<text x="50.40" y="354.40" font-size="5.3" text-anchor="middle" font-weight="normal" fill="#1a1a1a" stroke="#1a1a1a" stroke-width="0.13">36</text>
<text x="57.32" y="354.40" font-size="5.3" text-anchor="middle" font-weight="normal" fill="#1a1a1a" stroke="#1a1a1a" stroke-width="0.13">34</text>
<text x="64.24" y="354.40" font-size="5.3" text-anchor="middle" font-weight="normal" fill="#1a1a1a" stroke="#1a1a1a" stroke-width="0.13">29</text>
<text x="71.16" y="354.40" font-size="5.3" text-anchor="middle" font-weight="normal" fill="#1a1a1a" stroke="#1a1a1a" stroke-width="0.13">23</text>
<text x="78.08" y="354.40" font-size="5.3" text-anchor="middle" font-weight="normal" fill="#1a1a1a" stroke="#1a1a1a" stroke-width="0.13">20</text>
<text x="85.00" y="354.40" font-size="5.3" text-anchor="middle" font-weight="normal" fill="#1a1a1a" stroke="#1a1a1a" stroke-width="0.13">18</text>
<text x="91.92" y="354.40" font-size="5.3" text-anchor="middle" font-weight="normal" fill="#1a1a1a" stroke="#1a1a1a" stroke-width="0.13">17</text>
<text x="98.84" y="354.40" font-size="5.3" text-anchor="middle" font-weight="normal" fill="#1a1a1a" stroke="#1a1a1a" stroke-width="0.13">15</text>
<text x="105.76" y="354.40" font-size="5.3" text-anchor="middle" font-weight="normal" fill="#1a1a1a" stroke="#1a1a1a" stroke-width="0.13">13</text>
<text x="112.68" y="354.40" font-size="5.3" text-anchor="middle" font-weight="normal" fill="#1a1a1a" stroke="#1a1a1a" stroke-width="0.13">12</text>
<text x="119.60" y="354.40" font-size="5.3" text-anchor="middle" font-weight="normal" fill="#1a1a1a" stroke="#1a1a1a" stroke-width="0.13">9</text>
<text x="126.52" y="354.40" font-size="5.3" text-anchor="middle" font-weight="normal" fill="#1a1a1a" stroke="#1a1a1a" stroke-width="0.13">7</text>
<text x="133.44" y="354.40" font-size="5.3" text-anchor="middle" font-weight="normal" fill="#1a1a1a" stroke="#1a1a1a" stroke-width="0.13">6</text>
<text x="140.36" y="354.40" font-size="5.3" text-anchor="middle" font-weight="normal" fill="#1a1a1a" stroke="#1a1a1a" stroke-width="0.13">–</text>
<text x="147.28" y="354.40" font-size="5.3" text-anchor="middle" font-weight="normal" fill="#1a1a1a" stroke="#1a1a1a" stroke-width="0.13">–</text>
<text x="154.20" y="354.40" font-size="5.3" text-anchor="middle" font-weight="normal" fill="#1a1a1a" stroke="#1a1a1a" stroke-width="0.13">5</text>
<text x="161.12" y="354.40" font-size="5.3" text-anchor="middle" font-weight="normal" fill="#1a1a1a" stroke="#1a1a1a" stroke-width="0.13">4</text>
<text x="168.04" y="354.40" font-size="5.3" text-anchor="middle" font-weight="normal" fill="#1a1a1a" stroke="#1a1a1a" stroke-width="0.13">–</text>
<text x="174.96" y="354.40" font-size="5.3" text-anchor="middle" font-weight="normal" fill="#1a1a1a" stroke="#1a1a1a" stroke-width="0.13">–</text>
<text x="181.88" y="354.40" font-size="5.3" text-anchor="middle" font-weight="normal" fill="#1a1a1a" stroke="#1a1a1a" stroke-width="0.13">–</text>
<text x="188.80" y="354.40" font-size="5.3" text-anchor="middle" font-weight="normal" fill="#1a1a1a" stroke="#1a1a1a" stroke-width="0.13">–</text>
<text x="195.72" y="354.40" font-size="5.3" text-anchor="middle" font-weight="normal" fill="#1a1a1a" stroke="#1a1a1a" stroke-width="0.13">2</text>
<text x="202.64" y="354.40" font-size="5.3" text-anchor="middle" font-weight="normal" fill="#1a1a1a" stroke="#1a1a1a" stroke-width="0.13">1</text>
<text x="209.56" y="354.40" font-size="5.3" text-anchor="middle" font-weight="normal" fill="#1a1a1a" stroke="#1a1a1a" stroke-width="0.13">–</text>
<text x="216.48" y="354.40" font-size="5.3" text-anchor="middle" font-weight="normal" fill="#1a1a1a" stroke="#1a1a1a" stroke-width="0.13">–</text>
<text x="223.40" y="354.40" font-size="5.3" text-anchor="middle" font-weight="normal" fill="#1a1a1a" stroke="#1a1a1a" stroke-width="0.13">–</text>
<text x="230.32" y="354.40" font-size="5.3" text-anchor="middle" font-weight="normal" fill="#1a1a1a" stroke="#1a1a1a" stroke-width="0.13">–</text>
<text x="237.24" y="354.40" font-size="5.3" text-anchor="middle" font-weight="normal" fill="#1a1a1a" stroke="#1a1a1a" stroke-width="0.13">–</text>
<text x="244.16" y="354.40" font-size="5.3" text-anchor="middle" font-weight="normal" fill="#1a1a1a" stroke="#1a1a1a" stroke-width="0.13">–</text>
<text x="251.08" y="354.40" font-size="5.3" text-anchor="middle" font-weight="normal" fill="#1a1a1a" stroke="#1a1a1a" stroke-width="0.13">–</text>
<text x="31.40" y="360.50" font-size="5.2" text-anchor="end" font-weight="normal" fill="#1a1a1a" stroke="#1a1a1a" stroke-width="0.1">VDC</text>
<text x="36.56" y="360.50" font-size="5.3" text-anchor="middle" font-weight="normal" fill="#1a1a1a" stroke="#1a1a1a" stroke-width="0.13">33</text>
<text x="43.48" y="360.50" font-size="5.3" text-anchor="middle" font-weight="normal" fill="#1a1a1a" stroke="#1a1a1a" stroke-width="0.13">–</text>
<text x="50.40" y="360.50" font-size="5.3" text-anchor="middle" font-weight="normal" fill="#1a1a1a" stroke="#1a1a1a" stroke-width="0.13">31</text>
<text x="57.32" y="360.50" font-size="5.3" text-anchor="middle" font-weight="normal" fill="#1a1a1a" stroke="#1a1a1a" stroke-width="0.13">30</text>
<text x="64.24" y="360.50" font-size="5.3" text-anchor="middle" font-weight="normal" fill="#1a1a1a" stroke="#1a1a1a" stroke-width="0.13">27</text>
<text x="71.16" y="360.50" font-size="5.3" text-anchor="middle" font-weight="normal" fill="#1a1a1a" stroke="#1a1a1a" stroke-width="0.13">23</text>
<text x="78.08" y="360.50" font-size="5.3" text-anchor="middle" font-weight="normal" fill="#1a1a1a" stroke="#1a1a1a" stroke-width="0.13">20</text>
<text x="85.00" y="360.50" font-size="5.3" text-anchor="middle" font-weight="normal" fill="#1a1a1a" stroke="#1a1a1a" stroke-width="0.13">18</text>
<text x="91.92" y="360.50" font-size="5.3" text-anchor="middle" font-weight="normal" fill="#1a1a1a" stroke="#1a1a1a" stroke-width="0.13">–</text>
<text x="98.84" y="360.50" font-size="5.3" text-anchor="middle" font-weight="normal" fill="#1a1a1a" stroke="#1a1a1a" stroke-width="0.13">–</text>
<text x="105.76" y="360.50" font-size="5.3" text-anchor="middle" font-weight="normal" fill="#1a1a1a" stroke="#1a1a1a" stroke-width="0.13">–</text>
<text x="112.68" y="360.50" font-size="5.3" text-anchor="middle" font-weight="normal" fill="#1a1a1a" stroke="#1a1a1a" stroke-width="0.13">–</text>
<text x="119.60" y="360.50" font-size="5.3" text-anchor="middle" font-weight="normal" fill="#1a1a1a" stroke="#1a1a1a" stroke-width="0.13">17</text>
<text x="126.52" y="360.50" font-size="5.3" text-anchor="middle" font-weight="normal" fill="#1a1a1a" stroke="#1a1a1a" stroke-width="0.13">15</text>
<text x="133.44" y="360.50" font-size="5.3" text-anchor="middle" font-weight="normal" fill="#1a1a1a" stroke="#1a1a1a" stroke-width="0.13">–</text>
<text x="140.36" y="360.50" font-size="5.3" text-anchor="middle" font-weight="normal" fill="#1a1a1a" stroke="#1a1a1a" stroke-width="0.13">14</text>
<text x="147.28" y="360.50" font-size="5.3" text-anchor="middle" font-weight="normal" fill="#1a1a1a" stroke="#1a1a1a" stroke-width="0.13">12</text>
<text x="154.20" y="360.50" font-size="5.3" text-anchor="middle" font-weight="normal" fill="#1a1a1a" stroke="#1a1a1a" stroke-width="0.13">11</text>
<text x="161.12" y="360.50" font-size="5.3" text-anchor="middle" font-weight="normal" fill="#1a1a1a" stroke="#1a1a1a" stroke-width="0.13">–</text>
<text x="168.04" y="360.50" font-size="5.3" text-anchor="middle" font-weight="normal" fill="#1a1a1a" stroke="#1a1a1a" stroke-width="0.13">–</text>
<text x="174.96" y="360.50" font-size="5.3" text-anchor="middle" font-weight="normal" fill="#1a1a1a" stroke="#1a1a1a" stroke-width="0.13">9</text>
<text x="181.88" y="360.50" font-size="5.3" text-anchor="middle" font-weight="normal" fill="#1a1a1a" stroke="#1a1a1a" stroke-width="0.13">8</text>
<text x="188.80" y="360.50" font-size="5.3" text-anchor="middle" font-weight="normal" fill="#1a1a1a" stroke="#1a1a1a" stroke-width="0.13">6</text>
<text x="195.72" y="360.50" font-size="5.3" text-anchor="middle" font-weight="normal" fill="#1a1a1a" stroke="#1a1a1a" stroke-width="0.13">–</text>
<text x="202.64" y="360.50" font-size="5.3" text-anchor="middle" font-weight="normal" fill="#1a1a1a" stroke="#1a1a1a" stroke-width="0.13">–</text>
<text x="209.56" y="360.50" font-size="5.3" text-anchor="middle" font-weight="normal" fill="#1a1a1a" stroke="#1a1a1a" stroke-width="0.13">4</text>
<text x="216.48" y="360.50" font-size="5.3" text-anchor="middle" font-weight="normal" fill="#1a1a1a" stroke="#1a1a1a" stroke-width="0.13">2</text>
<text x="223.40" y="360.50" font-size="5.3" text-anchor="middle" font-weight="normal" fill="#1a1a1a" stroke="#1a1a1a" stroke-width="0.13">–</text>
<text x="230.32" y="360.50" font-size="5.3" text-anchor="middle" font-weight="normal" fill="#1a1a1a" stroke="#1a1a1a" stroke-width="0.13">–</text>
<text x="237.24" y="360.50" font-size="5.3" text-anchor="middle" font-weight="normal" fill="#1a1a1a" stroke="#1a1a1a" stroke-width="0.13">–</text>
<text x="244.16" y="360.50" font-size="5.3" text-anchor="middle" font-weight="normal" fill="#1a1a1a" stroke="#1a1a1a" stroke-width="0.13">–</text>
<text x="251.08" y="360.50" font-size="5.3" text-anchor="middle" font-weight="normal" fill="#1a1a1a" stroke="#1a1a1a" stroke-width="0.13">–</text>
<text x="31.40" y="366.70" font-size="5.2" text-anchor="end" font-weight="normal" fill="#1a1a1a" stroke="#1a1a1a" stroke-width="0.1">VDC-mod</text>
<text x="36.56" y="366.70" font-size="5.3" text-anchor="middle" font-weight="normal" fill="#1a1a1a" stroke="#1a1a1a" stroke-width="0.13">17</text>
<text x="43.48" y="366.70" font-size="5.3" text-anchor="middle" font-weight="normal" fill="#1a1a1a" stroke="#1a1a1a" stroke-width="0.13">–</text>
<text x="50.40" y="366.70" font-size="5.3" text-anchor="middle" font-weight="normal" fill="#1a1a1a" stroke="#1a1a1a" stroke-width="0.13">–</text>
<text x="57.32" y="366.70" font-size="5.3" text-anchor="middle" font-weight="normal" fill="#1a1a1a" stroke="#1a1a1a" stroke-width="0.13">–</text>
<text x="64.24" y="366.70" font-size="5.3" text-anchor="middle" font-weight="normal" fill="#1a1a1a" stroke="#1a1a1a" stroke-width="0.13">12</text>
<text x="71.16" y="366.70" font-size="5.3" text-anchor="middle" font-weight="normal" fill="#1a1a1a" stroke="#1a1a1a" stroke-width="0.13">10</text>
<text x="78.08" y="366.70" font-size="5.3" text-anchor="middle" font-weight="normal" fill="#1a1a1a" stroke="#1a1a1a" stroke-width="0.13">–</text>
<text x="85.00" y="366.70" font-size="5.3" text-anchor="middle" font-weight="normal" fill="#1a1a1a" stroke="#1a1a1a" stroke-width="0.13">–</text>
<text x="91.92" y="366.70" font-size="5.3" text-anchor="middle" font-weight="normal" fill="#1a1a1a" stroke="#1a1a1a" stroke-width="0.13">–</text>
<text x="98.84" y="366.70" font-size="5.3" text-anchor="middle" font-weight="normal" fill="#1a1a1a" stroke="#1a1a1a" stroke-width="0.13">8</text>
<text x="105.76" y="366.70" font-size="5.3" text-anchor="middle" font-weight="normal" fill="#1a1a1a" stroke="#1a1a1a" stroke-width="0.13">–</text>
<text x="112.68" y="366.70" font-size="5.3" text-anchor="middle" font-weight="normal" fill="#1a1a1a" stroke="#1a1a1a" stroke-width="0.13">6</text>
<text x="119.60" y="366.70" font-size="5.3" text-anchor="middle" font-weight="normal" fill="#1a1a1a" stroke="#1a1a1a" stroke-width="0.13">5</text>
<text x="126.52" y="366.70" font-size="5.3" text-anchor="middle" font-weight="normal" fill="#1a1a1a" stroke="#1a1a1a" stroke-width="0.13">–</text>
<text x="133.44" y="366.70" font-size="5.3" text-anchor="middle" font-weight="normal" fill="#1a1a1a" stroke="#1a1a1a" stroke-width="0.13">–</text>
<text x="140.36" y="366.70" font-size="5.3" text-anchor="middle" font-weight="normal" fill="#1a1a1a" stroke="#1a1a1a" stroke-width="0.13">3</text>
<text x="147.28" y="366.70" font-size="5.3" text-anchor="middle" font-weight="normal" fill="#1a1a1a" stroke="#1a1a1a" stroke-width="0.13">2</text>
<text x="154.20" y="366.70" font-size="5.3" text-anchor="middle" font-weight="normal" fill="#1a1a1a" stroke="#1a1a1a" stroke-width="0.13">1</text>
<text x="161.12" y="366.70" font-size="5.3" text-anchor="middle" font-weight="normal" fill="#1a1a1a" stroke="#1a1a1a" stroke-width="0.13">–</text>
<text x="168.04" y="366.70" font-size="5.3" text-anchor="middle" font-weight="normal" fill="#1a1a1a" stroke="#1a1a1a" stroke-width="0.13">–</text>
<text x="174.96" y="366.70" font-size="5.3" text-anchor="middle" font-weight="normal" fill="#1a1a1a" stroke="#1a1a1a" stroke-width="0.13">–</text>
<text x="181.88" y="366.70" font-size="5.3" text-anchor="middle" font-weight="normal" fill="#1a1a1a" stroke="#1a1a1a" stroke-width="0.13">–</text>
<text x="188.80" y="366.70" font-size="5.3" text-anchor="middle" font-weight="normal" fill="#1a1a1a" stroke="#1a1a1a" stroke-width="0.13">–</text>
<text x="195.72" y="366.70" font-size="5.3" text-anchor="middle" font-weight="normal" fill="#1a1a1a" stroke="#1a1a1a" stroke-width="0.13">–</text>
<text x="202.64" y="366.70" font-size="5.3" text-anchor="middle" font-weight="normal" fill="#1a1a1a" stroke="#1a1a1a" stroke-width="0.13">–</text>
<text x="209.56" y="366.70" font-size="5.3" text-anchor="middle" font-weight="normal" fill="#1a1a1a" stroke="#1a1a1a" stroke-width="0.13">–</text>
<text x="216.48" y="366.70" font-size="5.3" text-anchor="middle" font-weight="normal" fill="#1a1a1a" stroke="#1a1a1a" stroke-width="0.13">–</text>
<text x="223.40" y="366.70" font-size="5.3" text-anchor="middle" font-weight="normal" fill="#1a1a1a" stroke="#1a1a1a" stroke-width="0.13">–</text>
<text x="230.32" y="366.70" font-size="5.3" text-anchor="middle" font-weight="normal" fill="#1a1a1a" stroke="#1a1a1a" stroke-width="0.13">–</text>
<text x="237.24" y="366.70" font-size="5.3" text-anchor="middle" font-weight="normal" fill="#1a1a1a" stroke="#1a1a1a" stroke-width="0.13">–</text>
<text x="244.16" y="366.70" font-size="5.3" text-anchor="middle" font-weight="normal" fill="#1a1a1a" stroke="#1a1a1a" stroke-width="0.13">–</text>
<text x="251.08" y="366.70" font-size="5.3" text-anchor="middle" font-weight="normal" fill="#1a1a1a" stroke="#1a1a1a" stroke-width="0.13">–</text>
<text x="282.00" y="340.85" font-size="5.1" text-anchor="start" font-weight="normal" fill="#1a1a1a"  stroke="#1a1a1a" stroke-width="0.04">Subjects at risk</text>
<text x="295.80" y="348.50" font-size="5.2" text-anchor="end" font-weight="normal" fill="#1a1a1a" stroke="#1a1a1a" stroke-width="0.1">VDCR</text>
<text x="300.60" y="348.50" font-size="5.3" text-anchor="middle" font-weight="normal" fill="#1a1a1a" stroke="#1a1a1a" stroke-width="0.13">48</text>
<text x="307.53" y="348.50" font-size="5.3" text-anchor="middle" font-weight="normal" fill="#1a1a1a" stroke="#1a1a1a" stroke-width="0.13">47</text>
<text x="314.47" y="348.50" font-size="5.3" text-anchor="middle" font-weight="normal" fill="#1a1a1a" stroke="#1a1a1a" stroke-width="0.13">45</text>
<text x="321.40" y="348.50" font-size="5.3" text-anchor="middle" font-weight="normal" fill="#1a1a1a" stroke="#1a1a1a" stroke-width="0.13">–</text>
<text x="328.33" y="348.50" font-size="5.3" text-anchor="middle" font-weight="normal" fill="#1a1a1a" stroke="#1a1a1a" stroke-width="0.13">43</text>
<text x="335.27" y="348.50" font-size="5.3" text-anchor="middle" font-weight="normal" fill="#1a1a1a" stroke="#1a1a1a" stroke-width="0.13">42</text>
<text x="342.20" y="348.50" font-size="5.3" text-anchor="middle" font-weight="normal" fill="#1a1a1a" stroke="#1a1a1a" stroke-width="0.13">–</text>
<text x="349.13" y="348.50" font-size="5.3" text-anchor="middle" font-weight="normal" fill="#1a1a1a" stroke="#1a1a1a" stroke-width="0.13">–</text>
<text x="356.06" y="348.50" font-size="5.3" text-anchor="middle" font-weight="normal" fill="#1a1a1a" stroke="#1a1a1a" stroke-width="0.13">41</text>
<text x="363.00" y="348.50" font-size="5.3" text-anchor="middle" font-weight="normal" fill="#1a1a1a" stroke="#1a1a1a" stroke-width="0.13">–</text>
<text x="369.93" y="348.50" font-size="5.3" text-anchor="middle" font-weight="normal" fill="#1a1a1a" stroke="#1a1a1a" stroke-width="0.13">–</text>
<text x="376.86" y="348.50" font-size="5.3" text-anchor="middle" font-weight="normal" fill="#1a1a1a" stroke="#1a1a1a" stroke-width="0.13">40</text>
<text x="383.80" y="348.50" font-size="5.3" text-anchor="middle" font-weight="normal" fill="#1a1a1a" stroke="#1a1a1a" stroke-width="0.13">–</text>
<text x="390.73" y="348.50" font-size="5.3" text-anchor="middle" font-weight="normal" fill="#1a1a1a" stroke="#1a1a1a" stroke-width="0.13">39</text>
<text x="397.66" y="348.50" font-size="5.3" text-anchor="middle" font-weight="normal" fill="#1a1a1a" stroke="#1a1a1a" stroke-width="0.13">38</text>
<text x="404.60" y="348.50" font-size="5.3" text-anchor="middle" font-weight="normal" fill="#1a1a1a" stroke="#1a1a1a" stroke-width="0.13">–</text>
<text x="411.53" y="348.50" font-size="5.3" text-anchor="middle" font-weight="normal" fill="#1a1a1a" stroke="#1a1a1a" stroke-width="0.13">32</text>
<text x="418.46" y="348.50" font-size="5.3" text-anchor="middle" font-weight="normal" fill="#1a1a1a" stroke="#1a1a1a" stroke-width="0.13">31</text>
<text x="425.39" y="348.50" font-size="5.3" text-anchor="middle" font-weight="normal" fill="#1a1a1a" stroke="#1a1a1a" stroke-width="0.13">30</text>
<text x="432.33" y="348.50" font-size="5.3" text-anchor="middle" font-weight="normal" fill="#1a1a1a" stroke="#1a1a1a" stroke-width="0.13">26</text>
<text x="439.26" y="348.50" font-size="5.3" text-anchor="middle" font-weight="normal" fill="#1a1a1a" stroke="#1a1a1a" stroke-width="0.13">22</text>
<text x="446.19" y="348.50" font-size="5.3" text-anchor="middle" font-weight="normal" fill="#1a1a1a" stroke="#1a1a1a" stroke-width="0.13">19</text>
<text x="453.13" y="348.50" font-size="5.3" text-anchor="middle" font-weight="normal" fill="#1a1a1a" stroke="#1a1a1a" stroke-width="0.13">14</text>
<text x="460.06" y="348.50" font-size="5.3" text-anchor="middle" font-weight="normal" fill="#1a1a1a" stroke="#1a1a1a" stroke-width="0.13">–</text>
<text x="466.99" y="348.50" font-size="5.3" text-anchor="middle" font-weight="normal" fill="#1a1a1a" stroke="#1a1a1a" stroke-width="0.13">12</text>
<text x="473.93" y="348.50" font-size="5.3" text-anchor="middle" font-weight="normal" fill="#1a1a1a" stroke="#1a1a1a" stroke-width="0.13">7</text>
<text x="480.86" y="348.50" font-size="5.3" text-anchor="middle" font-weight="normal" fill="#1a1a1a" stroke="#1a1a1a" stroke-width="0.13">6</text>
<text x="487.79" y="348.50" font-size="5.3" text-anchor="middle" font-weight="normal" fill="#1a1a1a" stroke="#1a1a1a" stroke-width="0.13">5</text>
<text x="494.72" y="348.50" font-size="5.3" text-anchor="middle" font-weight="normal" fill="#1a1a1a" stroke="#1a1a1a" stroke-width="0.13">–</text>
<text x="501.66" y="348.50" font-size="5.3" text-anchor="middle" font-weight="normal" fill="#1a1a1a" stroke="#1a1a1a" stroke-width="0.13">3</text>
<text x="508.59" y="348.50" font-size="5.3" text-anchor="middle" font-weight="normal" fill="#1a1a1a" stroke="#1a1a1a" stroke-width="0.13">1</text>
<text x="515.52" y="348.50" font-size="5.3" text-anchor="middle" font-weight="normal" fill="#1a1a1a" stroke="#1a1a1a" stroke-width="0.13">–</text>
<text x="295.80" y="354.60" font-size="5.2" text-anchor="end" font-weight="normal" fill="#1a1a1a" stroke="#1a1a1a" stroke-width="0.1">VDR</text>
<text x="300.60" y="354.60" font-size="5.3" text-anchor="middle" font-weight="normal" fill="#1a1a1a" stroke="#1a1a1a" stroke-width="0.13">42</text>
<text x="307.53" y="354.60" font-size="5.3" text-anchor="middle" font-weight="normal" fill="#1a1a1a" stroke="#1a1a1a" stroke-width="0.13">–</text>
<text x="314.47" y="354.60" font-size="5.3" text-anchor="middle" font-weight="normal" fill="#1a1a1a" stroke="#1a1a1a" stroke-width="0.13">40</text>
<text x="321.40" y="354.60" font-size="5.3" text-anchor="middle" font-weight="normal" fill="#1a1a1a" stroke="#1a1a1a" stroke-width="0.13">38</text>
<text x="328.33" y="354.60" font-size="5.3" text-anchor="middle" font-weight="normal" fill="#1a1a1a" stroke="#1a1a1a" stroke-width="0.13">–</text>
<text x="335.27" y="354.60" font-size="5.3" text-anchor="middle" font-weight="normal" fill="#1a1a1a" stroke="#1a1a1a" stroke-width="0.13">–</text>
<text x="342.20" y="354.60" font-size="5.3" text-anchor="middle" font-weight="normal" fill="#1a1a1a" stroke="#1a1a1a" stroke-width="0.13">–</text>
<text x="349.13" y="354.60" font-size="5.3" text-anchor="middle" font-weight="normal" fill="#1a1a1a" stroke="#1a1a1a" stroke-width="0.13">–</text>
<text x="356.06" y="354.60" font-size="5.3" text-anchor="middle" font-weight="normal" fill="#1a1a1a" stroke="#1a1a1a" stroke-width="0.13">–</text>
<text x="363.00" y="354.60" font-size="5.3" text-anchor="middle" font-weight="normal" fill="#1a1a1a" stroke="#1a1a1a" stroke-width="0.13">–</text>
<text x="369.93" y="354.60" font-size="5.3" text-anchor="middle" font-weight="normal" fill="#1a1a1a" stroke="#1a1a1a" stroke-width="0.13">–</text>
<text x="376.86" y="354.60" font-size="5.3" text-anchor="middle" font-weight="normal" fill="#1a1a1a" stroke="#1a1a1a" stroke-width="0.13">–</text>
<text x="383.80" y="354.60" font-size="5.3" text-anchor="middle" font-weight="normal" fill="#1a1a1a" stroke="#1a1a1a" stroke-width="0.13">–</text>
<text x="390.73" y="354.60" font-size="5.3" text-anchor="middle" font-weight="normal" fill="#1a1a1a" stroke="#1a1a1a" stroke-width="0.13">–</text>
<text x="397.66" y="354.60" font-size="5.3" text-anchor="middle" font-weight="normal" fill="#1a1a1a" stroke="#1a1a1a" stroke-width="0.13">–</text>
<text x="404.60" y="354.60" font-size="5.3" text-anchor="middle" font-weight="normal" fill="#1a1a1a" stroke="#1a1a1a" stroke-width="0.13">–</text>
<text x="411.53" y="354.60" font-size="5.3" text-anchor="middle" font-weight="normal" fill="#1a1a1a" stroke="#1a1a1a" stroke-width="0.13">37</text>
<text x="418.46" y="354.60" font-size="5.3" text-anchor="middle" font-weight="normal" fill="#1a1a1a" stroke="#1a1a1a" stroke-width="0.13">30</text>
<text x="425.39" y="354.60" font-size="5.3" text-anchor="middle" font-weight="normal" fill="#1a1a1a" stroke="#1a1a1a" stroke-width="0.13">29</text>
<text x="432.33" y="354.60" font-size="5.3" text-anchor="middle" font-weight="normal" fill="#1a1a1a" stroke="#1a1a1a" stroke-width="0.13">26</text>
<text x="439.26" y="354.60" font-size="5.3" text-anchor="middle" font-weight="normal" fill="#1a1a1a" stroke="#1a1a1a" stroke-width="0.13">23</text>
<text x="446.19" y="354.60" font-size="5.3" text-anchor="middle" font-weight="normal" fill="#1a1a1a" stroke="#1a1a1a" stroke-width="0.13">19</text>
<text x="453.13" y="354.60" font-size="5.3" text-anchor="middle" font-weight="normal" fill="#1a1a1a" stroke="#1a1a1a" stroke-width="0.13">17</text>
<text x="460.06" y="354.60" font-size="5.3" text-anchor="middle" font-weight="normal" fill="#1a1a1a" stroke="#1a1a1a" stroke-width="0.13">14</text>
<text x="466.99" y="354.60" font-size="5.3" text-anchor="middle" font-weight="normal" fill="#1a1a1a" stroke="#1a1a1a" stroke-width="0.13">11</text>
<text x="473.93" y="354.60" font-size="5.3" text-anchor="middle" font-weight="normal" fill="#1a1a1a" stroke="#1a1a1a" stroke-width="0.13">7</text>
<text x="480.86" y="354.60" font-size="5.3" text-anchor="middle" font-weight="normal" fill="#1a1a1a" stroke="#1a1a1a" stroke-width="0.13">5</text>
<text x="487.79" y="354.60" font-size="5.3" text-anchor="middle" font-weight="normal" fill="#1a1a1a" stroke="#1a1a1a" stroke-width="0.13">1</text>
<text x="494.72" y="354.60" font-size="5.3" text-anchor="middle" font-weight="normal" fill="#1a1a1a" stroke="#1a1a1a" stroke-width="0.13">–</text>
<text x="501.66" y="354.60" font-size="5.3" text-anchor="middle" font-weight="normal" fill="#1a1a1a" stroke="#1a1a1a" stroke-width="0.13">–</text>
<text x="508.59" y="354.60" font-size="5.3" text-anchor="middle" font-weight="normal" fill="#1a1a1a" stroke="#1a1a1a" stroke-width="0.13">–</text>
<text x="515.52" y="354.60" font-size="5.3" text-anchor="middle" font-weight="normal" fill="#1a1a1a" stroke="#1a1a1a" stroke-width="0.13">–</text>
<text x="295.80" y="360.50" font-size="5.2" text-anchor="end" font-weight="normal" fill="#1a1a1a" stroke="#1a1a1a" stroke-width="0.1">VDC</text>
<text x="300.60" y="360.50" font-size="5.3" text-anchor="middle" font-weight="normal" fill="#1a1a1a" stroke="#1a1a1a" stroke-width="0.13">33</text>
<text x="307.53" y="360.50" font-size="5.3" text-anchor="middle" font-weight="normal" fill="#1a1a1a" stroke="#1a1a1a" stroke-width="0.13">–</text>
<text x="314.47" y="360.50" font-size="5.3" text-anchor="middle" font-weight="normal" fill="#1a1a1a" stroke="#1a1a1a" stroke-width="0.13">–</text>
<text x="321.40" y="360.50" font-size="5.3" text-anchor="middle" font-weight="normal" fill="#1a1a1a" stroke="#1a1a1a" stroke-width="0.13">32</text>
<text x="328.33" y="360.50" font-size="5.3" text-anchor="middle" font-weight="normal" fill="#1a1a1a" stroke="#1a1a1a" stroke-width="0.13">–</text>
<text x="335.27" y="360.50" font-size="5.3" text-anchor="middle" font-weight="normal" fill="#1a1a1a" stroke="#1a1a1a" stroke-width="0.13">31</text>
<text x="342.20" y="360.50" font-size="5.3" text-anchor="middle" font-weight="normal" fill="#1a1a1a" stroke="#1a1a1a" stroke-width="0.13">–</text>
<text x="349.13" y="360.50" font-size="5.3" text-anchor="middle" font-weight="normal" fill="#1a1a1a" stroke="#1a1a1a" stroke-width="0.13">–</text>
<text x="356.06" y="360.50" font-size="5.3" text-anchor="middle" font-weight="normal" fill="#1a1a1a" stroke="#1a1a1a" stroke-width="0.13">–</text>
<text x="363.00" y="360.50" font-size="5.3" text-anchor="middle" font-weight="normal" fill="#1a1a1a" stroke="#1a1a1a" stroke-width="0.13">–</text>
<text x="369.93" y="360.50" font-size="5.3" text-anchor="middle" font-weight="normal" fill="#1a1a1a" stroke="#1a1a1a" stroke-width="0.13">–</text>
<text x="376.86" y="360.50" font-size="5.3" text-anchor="middle" font-weight="normal" fill="#1a1a1a" stroke="#1a1a1a" stroke-width="0.13">–</text>
<text x="383.80" y="360.50" font-size="5.3" text-anchor="middle" font-weight="normal" fill="#1a1a1a" stroke="#1a1a1a" stroke-width="0.13">–</text>
<text x="390.73" y="360.50" font-size="5.3" text-anchor="middle" font-weight="normal" fill="#1a1a1a" stroke="#1a1a1a" stroke-width="0.13">–</text>
<text x="397.66" y="360.50" font-size="5.3" text-anchor="middle" font-weight="normal" fill="#1a1a1a" stroke="#1a1a1a" stroke-width="0.13">–</text>
<text x="404.60" y="360.50" font-size="5.3" text-anchor="middle" font-weight="normal" fill="#1a1a1a" stroke="#1a1a1a" stroke-width="0.13">30</text>
<text x="411.53" y="360.50" font-size="5.3" text-anchor="middle" font-weight="normal" fill="#1a1a1a" stroke="#1a1a1a" stroke-width="0.13">–</text>
<text x="418.46" y="360.50" font-size="5.3" text-anchor="middle" font-weight="normal" fill="#1a1a1a" stroke="#1a1a1a" stroke-width="0.13">–</text>
<text x="425.39" y="360.50" font-size="5.3" text-anchor="middle" font-weight="normal" fill="#1a1a1a" stroke="#1a1a1a" stroke-width="0.13">–</text>
<text x="432.33" y="360.50" font-size="5.3" text-anchor="middle" font-weight="normal" fill="#1a1a1a" stroke="#1a1a1a" stroke-width="0.13">28</text>
<text x="439.26" y="360.50" font-size="5.3" text-anchor="middle" font-weight="normal" fill="#1a1a1a" stroke="#1a1a1a" stroke-width="0.13">24</text>
<text x="446.19" y="360.50" font-size="5.3" text-anchor="middle" font-weight="normal" fill="#1a1a1a" stroke="#1a1a1a" stroke-width="0.13">21</text>
<text x="453.13" y="360.50" font-size="5.3" text-anchor="middle" font-weight="normal" fill="#1a1a1a" stroke="#1a1a1a" stroke-width="0.13">17</text>
<text x="460.06" y="360.50" font-size="5.3" text-anchor="middle" font-weight="normal" fill="#1a1a1a" stroke="#1a1a1a" stroke-width="0.13">15</text>
<text x="466.99" y="360.50" font-size="5.3" text-anchor="middle" font-weight="normal" fill="#1a1a1a" stroke="#1a1a1a" stroke-width="0.13">–</text>
<text x="473.93" y="360.50" font-size="5.3" text-anchor="middle" font-weight="normal" fill="#1a1a1a" stroke="#1a1a1a" stroke-width="0.13">11</text>
<text x="480.86" y="360.50" font-size="5.3" text-anchor="middle" font-weight="normal" fill="#1a1a1a" stroke="#1a1a1a" stroke-width="0.13">6</text>
<text x="487.79" y="360.50" font-size="5.3" text-anchor="middle" font-weight="normal" fill="#1a1a1a" stroke="#1a1a1a" stroke-width="0.13">4</text>
<text x="494.72" y="360.50" font-size="5.3" text-anchor="middle" font-weight="normal" fill="#1a1a1a" stroke="#1a1a1a" stroke-width="0.13">–</text>
<text x="501.66" y="360.50" font-size="5.3" text-anchor="middle" font-weight="normal" fill="#1a1a1a" stroke="#1a1a1a" stroke-width="0.13">–</text>
<text x="508.59" y="360.50" font-size="5.3" text-anchor="middle" font-weight="normal" fill="#1a1a1a" stroke="#1a1a1a" stroke-width="0.13">–</text>
<text x="515.52" y="360.50" font-size="5.3" text-anchor="middle" font-weight="normal" fill="#1a1a1a" stroke="#1a1a1a" stroke-width="0.13">–</text>
<text x="295.80" y="366.70" font-size="5.2" text-anchor="end" font-weight="normal" fill="#1a1a1a" stroke="#1a1a1a" stroke-width="0.1">VDC-mod</text>
<text x="300.60" y="366.70" font-size="5.3" text-anchor="middle" font-weight="normal" fill="#1a1a1a" stroke="#1a1a1a" stroke-width="0.13">17</text>
<text x="307.53" y="366.70" font-size="5.3" text-anchor="middle" font-weight="normal" fill="#1a1a1a" stroke="#1a1a1a" stroke-width="0.13">–</text>
<text x="314.47" y="366.70" font-size="5.3" text-anchor="middle" font-weight="normal" fill="#1a1a1a" stroke="#1a1a1a" stroke-width="0.13">–</text>
<text x="321.40" y="366.70" font-size="5.3" text-anchor="middle" font-weight="normal" fill="#1a1a1a" stroke="#1a1a1a" stroke-width="0.13">–</text>
<text x="328.33" y="366.70" font-size="5.3" text-anchor="middle" font-weight="normal" fill="#1a1a1a" stroke="#1a1a1a" stroke-width="0.13">–</text>
<text x="335.27" y="366.70" font-size="5.3" text-anchor="middle" font-weight="normal" fill="#1a1a1a" stroke="#1a1a1a" stroke-width="0.13">–</text>
<text x="342.20" y="366.70" font-size="5.3" text-anchor="middle" font-weight="normal" fill="#1a1a1a" stroke="#1a1a1a" stroke-width="0.13">–</text>
<text x="349.13" y="366.70" font-size="5.3" text-anchor="middle" font-weight="normal" fill="#1a1a1a" stroke="#1a1a1a" stroke-width="0.13">–</text>
<text x="356.06" y="366.70" font-size="5.3" text-anchor="middle" font-weight="normal" fill="#1a1a1a" stroke="#1a1a1a" stroke-width="0.13">–</text>
<text x="363.00" y="366.70" font-size="5.3" text-anchor="middle" font-weight="normal" fill="#1a1a1a" stroke="#1a1a1a" stroke-width="0.13">–</text>
<text x="369.93" y="366.70" font-size="5.3" text-anchor="middle" font-weight="normal" fill="#1a1a1a" stroke="#1a1a1a" stroke-width="0.13">–</text>
<text x="376.86" y="366.70" font-size="5.3" text-anchor="middle" font-weight="normal" fill="#1a1a1a" stroke="#1a1a1a" stroke-width="0.13">–</text>
<text x="383.80" y="366.70" font-size="5.3" text-anchor="middle" font-weight="normal" fill="#1a1a1a" stroke="#1a1a1a" stroke-width="0.13">15</text>
<text x="390.73" y="366.70" font-size="5.3" text-anchor="middle" font-weight="normal" fill="#1a1a1a" stroke="#1a1a1a" stroke-width="0.13">14</text>
<text x="397.66" y="366.70" font-size="5.3" text-anchor="middle" font-weight="normal" fill="#1a1a1a" stroke="#1a1a1a" stroke-width="0.13">12</text>
<text x="404.60" y="366.70" font-size="5.3" text-anchor="middle" font-weight="normal" fill="#1a1a1a" stroke="#1a1a1a" stroke-width="0.13">9</text>
<text x="411.53" y="366.70" font-size="5.3" text-anchor="middle" font-weight="normal" fill="#1a1a1a" stroke="#1a1a1a" stroke-width="0.13">6</text>
<text x="418.46" y="366.70" font-size="5.3" text-anchor="middle" font-weight="normal" fill="#1a1a1a" stroke="#1a1a1a" stroke-width="0.13">3</text>
<text x="425.39" y="366.70" font-size="5.3" text-anchor="middle" font-weight="normal" fill="#1a1a1a" stroke="#1a1a1a" stroke-width="0.13">–</text>
<text x="432.33" y="366.70" font-size="5.3" text-anchor="middle" font-weight="normal" fill="#1a1a1a" stroke="#1a1a1a" stroke-width="0.13">–</text>
<text x="439.26" y="366.70" font-size="5.3" text-anchor="middle" font-weight="normal" fill="#1a1a1a" stroke="#1a1a1a" stroke-width="0.13">–</text>
<text x="446.19" y="366.70" font-size="5.3" text-anchor="middle" font-weight="normal" fill="#1a1a1a" stroke="#1a1a1a" stroke-width="0.13">–</text>
<text x="453.13" y="366.70" font-size="5.3" text-anchor="middle" font-weight="normal" fill="#1a1a1a" stroke="#1a1a1a" stroke-width="0.13">–</text>
<text x="460.06" y="366.70" font-size="5.3" text-anchor="middle" font-weight="normal" fill="#1a1a1a" stroke="#1a1a1a" stroke-width="0.13">–</text>
<text x="466.99" y="366.70" font-size="5.3" text-anchor="middle" font-weight="normal" fill="#1a1a1a" stroke="#1a1a1a" stroke-width="0.13">–</text>
<text x="473.93" y="366.70" font-size="5.3" text-anchor="middle" font-weight="normal" fill="#1a1a1a" stroke="#1a1a1a" stroke-width="0.13">–</text>
<text x="480.86" y="366.70" font-size="5.3" text-anchor="middle" font-weight="normal" fill="#1a1a1a" stroke="#1a1a1a" stroke-width="0.13">–</text>
<text x="487.79" y="366.70" font-size="5.3" text-anchor="middle" font-weight="normal" fill="#1a1a1a" stroke="#1a1a1a" stroke-width="0.13">–</text>
<text x="494.72" y="366.70" font-size="5.3" text-anchor="middle" font-weight="normal" fill="#1a1a1a" stroke="#1a1a1a" stroke-width="0.13">–</text>
<text x="501.66" y="366.70" font-size="5.3" text-anchor="middle" font-weight="normal" fill="#1a1a1a" stroke="#1a1a1a" stroke-width="0.13">–</text>
<text x="508.59" y="366.70" font-size="5.3" text-anchor="middle" font-weight="normal" fill="#1a1a1a" stroke="#1a1a1a" stroke-width="0.13">–</text>
<text x="515.52" y="366.70" font-size="5.3" text-anchor="middle" font-weight="normal" fill="#1a1a1a" stroke="#1a1a1a" stroke-width="0.13">–</text>
<line x1="141.30" y1="381.80" x2="151.90" y2="381.80" stroke="#000" stroke-width="1.5" />
<text x="152.60" y="384.10" font-size="6.4" text-anchor="start" font-weight="normal" fill="#1a1a1a"  stroke="#1a1a1a" stroke-width="0.04">VDCR (n = 48)</text>
<line x1="203.00" y1="381.80" x2="213.80" y2="381.80" stroke="#555" stroke-width="1.0" stroke-dasharray="2.4,1.1"/>
<text x="215.00" y="384.10" font-size="6.4" text-anchor="start" font-weight="normal" fill="#1a1a1a"  stroke="#1a1a1a" stroke-width="0.04">VDR (n = 42)</text>
<line x1="261.20" y1="381.80" x2="271.90" y2="381.80" stroke="#222" stroke-width="1.5" />
<text x="272.90" y="384.10" font-size="6.4" text-anchor="start" font-weight="normal" fill="#1a1a1a"  stroke="#1a1a1a" stroke-width="0.04">VDC (n = 33)</text>
<line x1="319.40" y1="381.80" x2="329.60" y2="381.80" stroke="#777" stroke-width="0.8" />
<text x="330.00" y="384.10" font-size="6.4" text-anchor="start" font-weight="normal" fill="#1a1a1a"  stroke="#1a1a1a" stroke-width="0.04">VDC-mod (n = 17)</text>
<circle cx="235.80" cy="392.50" r="1.4" fill="#000"/>
<circle cx="240.00" cy="392.50" r="1.4" fill="#000"/>
<circle cx="244.20" cy="392.50" r="1.4" fill="#000"/>
<line x1="245.60" y1="395.20" x2="247.80" y2="389.70" stroke="#000" stroke-width="1.1" />
<circle cx="250.00" cy="392.50" r="1.3" fill="#777"/>
<circle cx="253.80" cy="392.50" r="1.3" fill="#777"/>
<circle cx="257.70" cy="392.50" r="1.3" fill="#777"/>
<text x="261.50" y="394.80" font-size="6.4" text-anchor="start" font-weight="normal" fill="#1a1a1a"  stroke="#1a1a1a" stroke-width="0.04">Censored</text>
<path d="M36.5,19 H38.3 V20.3 H40.7 V22.2 H43.1 V27.5 H45.1 V30.4 H54.2 V34.7 H68.6 V37.2 H75.4 L76.1,43.9 L78,48.3 L80.5,50.8 H85.3 V53.8 H86.3 V56 H87.2 V58.9 H88.5 V62 H90.1 V63.9 H97.5 V70 H100.1 V73.5 H107 V76 H115 V78.5 H120 V81 H179 V86.4 H197.5 V94.2 H205.3 V115" fill="none" stroke="#7a7a7a" stroke-width="0.8" />
<path d="M36.5,19 H39.8 V20.8 H42.7 V22.7 H47.5 V24.1 H50.8 V26 H53.2 V28 H54.7 V32.3 H76 V36.1 H84.4 V48.4 H88.3 V51 H90.5 V55 H93 V58 H95.5 V60.2 H97.5 V63.9 H103.6 V66 H108.2 V69.7 H115 V72 H122.2 V75.8 H141.3 V81 H146.7 V85.2 H155.4 V87.6 H182.5 V94.2 H197.2 V102.9 H205.5 V107 H210 V109 H216 V111 H225 V112.6 H240" fill="none" stroke="#777777" stroke-width="0.9" stroke-dasharray="2.2,0.8"/>
<path d="M36.5,19 H38.3 V20.3 H40.7 V22.2 H43.1 V27.5 H45.1 V30.4 H54.2 V34.7 H68.6 V37.2 H75.4 L76.1,43.9 L78,48.3 L80.5,50.8 H85.3 V53.8 H86.3 V56 H87.2 V58.9 H88.5 V62 H89.8 V65.2 H91.2 V67 H92.8 V69 H94.5 V70.2 H96 V71.4 H108.9 V74 H114 V76.5 H117 V77.7 H119.7 V80.3 H122.3 V83.4 H124.8 V85.3 H126.3 V88.5 H154.4 V90.6 H198 V93 H201.3 V96 H205.6 V103 H212.5 V107.8 H214 V111.8 H227" fill="none" stroke="#000" stroke-width="1.15" />
<path d="M36.5,19 H69.7 V21.9 H72.5 V24.6 H76 V35.9 H83.2 L84.6,39.5 L86,41.6 H88.3 V48 H93.5 V50.7 H97 V54 H99.6 V62.3 H104.5 V65 H112.8 V67.6 H122.2 V76.1 H130.4 V82.5 H201 V92.4 H209.8 V95 H211.3 V97.5 H212.8 V99.5 H214.3 V101.5 H215.8 V103.5 H217.5 V105.5 H219.3 V107.3 H221.3 V109 H223.5 V110.8 H225.5 V112.4 H244.5" fill="none" stroke="#000" stroke-width="1.35" />
<line x1="238.40" y1="110.80" x2="238.40" y2="114.00" stroke="#7a7a7a" stroke-width="0.8" />
<rect x="70.0" y="18.6" width="2.2" height="2.2" fill="none" stroke="#999" stroke-width="0.6"/>
<line x1="244.30" y1="110.80" x2="244.30" y2="114.00" stroke="#7a7a7a" stroke-width="0.8" />
<path d="M300,19.3 H424.5" fill="none" stroke="#7a7a7a" stroke-width="0.9" stroke-dasharray="3,1"/>
<circle cx="301.80" cy="19.30" r="0.9" fill="#999"/>
<circle cx="305.70" cy="19.30" r="0.9" fill="#999"/>
<circle cx="312.00" cy="19.30" r="0.9" fill="#999"/>
<circle cx="321.00" cy="19.30" r="0.9" fill="#999"/>
<circle cx="332.60" cy="19.30" r="0.9" fill="#999"/>
<circle cx="344.00" cy="19.30" r="0.9" fill="#999"/>
<circle cx="361.00" cy="19.30" r="1.4" fill="#666"/>
<circle cx="371.00" cy="19.30" r="1.4" fill="#666"/>
<circle cx="375.00" cy="19.30" r="1.4" fill="#666"/>
<circle cx="381.00" cy="19.30" r="1.4" fill="#666"/>
<circle cx="394.40" cy="19.30" r="1.4" fill="#666"/>
<circle cx="400.70" cy="19.30" r="1.4" fill="#666"/>
<circle cx="407.90" cy="19.30" r="1.4" fill="#666"/>
<circle cx="414.60" cy="19.30" r="1.4" fill="#666"/>
<circle cx="419.40" cy="19.30" r="1.4" fill="#666"/>
<circle cx="423.75" cy="19.30" r="1.4" fill="#666"/>
<path d="M300,19.4 H303.7 V20.8 H360.6 V26.2 H382.7 V35 H390.4 V39.7 H397 V43.2 H479.2" fill="none" stroke="#777777" stroke-width="0.9" stroke-dasharray="2.2,0.8"/>
<circle cx="405.00" cy="43.20" r="1.2" fill="#6a6a6a"/>
<circle cx="412.00" cy="43.20" r="1.2" fill="#6a6a6a"/>
<circle cx="425.00" cy="43.20" r="1.2" fill="#6a6a6a"/>
<circle cx="435.00" cy="43.20" r="1.2" fill="#6a6a6a"/>
<circle cx="445.00" cy="43.20" r="1.2" fill="#6a6a6a"/>
<circle cx="455.00" cy="43.20" r="1.2" fill="#6a6a6a"/>
<circle cx="462.00" cy="43.20" r="1.2" fill="#6a6a6a"/>
<circle cx="470.00" cy="43.20" r="1.2" fill="#6a6a6a"/>
<line x1="484.60" y1="41.80" x2="484.60" y2="44.60" stroke="#7a7a7a" stroke-width="0.8" />
<path d="M300,19.4 H304 V21.7 H352.3 V25.9 H384.6 V32.5 H396.6 V35.4 H417.3 V41.2 H480.3 V60.1 H490.8" fill="none" stroke="#000" stroke-width="1.1" />
<path d="M300,19.4 H304 V21.7 H312.2 V25.4 H320.6 V27.7 H331.4 V29.9 H381.9 V33.5 H396.6 V35.4 H404.8 V41.2 H428.75 V46.5 H446.5 V54.2 H448.5 V55.8 H449.5 V65.3 H512" fill="none" stroke="#000" stroke-width="1.1" />
<circle cx="307.20" cy="21.70" r="1.5" fill="#000"/>
<circle cx="313.70" cy="21.70" r="1.5" fill="#000"/>
<circle cx="318.30" cy="21.70" r="1.5" fill="#000"/>
<circle cx="322.90" cy="21.70" r="1.5" fill="#000"/>
<circle cx="328.70" cy="21.70" r="1.5" fill="#000"/>
<circle cx="334.50" cy="21.70" r="1.5" fill="#000"/>
<circle cx="343.50" cy="21.70" r="1.5" fill="#000"/>
<circle cx="347.00" cy="21.70" r="1.5" fill="#000"/>
<circle cx="349.00" cy="21.70" r="1.5" fill="#000"/>
<circle cx="357.00" cy="25.90" r="1.5" fill="#000"/>
<circle cx="368.00" cy="25.90" r="1.5" fill="#000"/>
<circle cx="378.80" cy="25.90" r="1.5" fill="#000"/>
<circle cx="388.00" cy="32.50" r="1.5" fill="#000"/>
<circle cx="395.20" cy="32.50" r="1.5" fill="#000"/>
<circle cx="408.65" cy="35.40" r="1.5" fill="#000"/>
<circle cx="421.90" cy="41.20" r="1.5" fill="#000"/>
<circle cx="425.60" cy="41.20" r="1.5" fill="#000"/>
<circle cx="433.00" cy="41.20" r="1.5" fill="#000"/>
<circle cx="434.40" cy="41.20" r="1.5" fill="#000"/>
<circle cx="451.50" cy="41.20" r="1.5" fill="#000"/>
<circle cx="472.30" cy="41.20" r="1.5" fill="#000"/>
<circle cx="411.90" cy="41.20" r="1.5" fill="#000"/>
<circle cx="480.30" cy="60.10" r="1.5" fill="#000"/>
<circle cx="488.50" cy="60.10" r="1.5" fill="#000"/>
<circle cx="490.00" cy="60.10" r="1.5" fill="#000"/>
<circle cx="313.70" cy="25.40" r="1.5" fill="#000"/>
<circle cx="318.30" cy="25.40" r="1.5" fill="#000"/>
<circle cx="333.70" cy="29.90" r="1.5" fill="#000"/>
<circle cx="343.50" cy="29.90" r="1.5" fill="#000"/>
<circle cx="346.00" cy="29.90" r="1.5" fill="#000"/>
<circle cx="351.60" cy="29.90" r="1.5" fill="#000"/>
<circle cx="352.90" cy="29.90" r="1.5" fill="#000"/>
<circle cx="363.00" cy="29.90" r="1.5" fill="#000"/>
<circle cx="368.00" cy="29.90" r="1.5" fill="#000"/>
<circle cx="370.60" cy="29.90" r="1.5" fill="#000"/>
<circle cx="373.75" cy="29.90" r="1.5" fill="#000"/>
<circle cx="429.40" cy="46.50" r="1.5" fill="#000"/>
<circle cx="431.25" cy="46.50" r="1.5" fill="#000"/>
<circle cx="437.50" cy="46.50" r="1.5" fill="#000"/>
<circle cx="440.60" cy="46.50" r="1.5" fill="#000"/>
<circle cx="455.40" cy="65.30" r="1.5" fill="#000"/>
<circle cx="470.00" cy="65.30" r="1.5" fill="#000"/>
<circle cx="474.20" cy="65.30" r="1.5" fill="#000"/>
<circle cx="483.50" cy="65.30" r="1.5" fill="#000"/>
<circle cx="511.50" cy="65.30" r="1.5" fill="#000"/>
<path d="M36.25,205 H156" fill="none" stroke="#7a7a7a" stroke-width="0.9" stroke-dasharray="3,1"/>
<path d="M45.5,204.8 H82" fill="none" stroke="#8e8e8e" stroke-width="2.0" />
<circle cx="110.40" cy="204.90" r="1.4" fill="#5e5e5e"/>
<circle cx="115.00" cy="204.90" r="1.4" fill="#5e5e5e"/>
<circle cx="125.00" cy="204.90" r="1.4" fill="#5e5e5e"/>
<circle cx="135.80" cy="204.90" r="1.4" fill="#5e5e5e"/>
<circle cx="143.80" cy="204.90" r="1.4" fill="#5e5e5e"/>
<circle cx="150.20" cy="204.90" r="1.4" fill="#5e5e5e"/>
<circle cx="155.40" cy="204.90" r="1.4" fill="#5e5e5e"/>
<path d="M36.25,205 H82 V209.6 H98.1 V221.25 H116.9 V236.25 H132 V245.5 H223" fill="none" stroke="#777777" stroke-width="0.9" stroke-dasharray="2.2,0.8"/>
<circle cx="89.20" cy="209.60" r="1.4" fill="#5e5e5e"/>
<circle cx="95.40" cy="209.60" r="1.4" fill="#5e5e5e"/>
<circle cx="111.90" cy="221.25" r="1.4" fill="#5e5e5e"/>
<circle cx="116.25" cy="221.25" r="1.4" fill="#5e5e5e"/>
<circle cx="121.25" cy="236.25" r="1.4" fill="#5e5e5e"/>
<circle cx="131.90" cy="236.25" r="1.4" fill="#5e5e5e"/>
<circle cx="189.80" cy="245.50" r="1.4" fill="#5e5e5e"/>
<circle cx="200.80" cy="245.50" r="1.4" fill="#5e5e5e"/>
<path d="M36.25,205 H39.3 V206.3 H46.2 V207.7 H120 V212.5 H123.1 V218.75 H152.5 V225.5 H215.6 V244.6 H226.6" fill="none" stroke="#000" stroke-width="1.1" />
<path d="M36.25,205 H39.3 V206.3 H47.4 V211.4 H55.5 V213.5 H67 V216.2 H119.4 V221.25 H131.25 V226.9 H140 V233.1 H163.75 V241.4 H181.7 V253.5 H183.8 V265.3 H247.3" fill="none" stroke="#000" stroke-width="1.1" />
<circle cx="42.80" cy="206.30" r="1.5" fill="#000"/>
<circle cx="48.20" cy="207.70" r="1.5" fill="#000"/>
<circle cx="53.90" cy="207.70" r="1.5" fill="#000"/>
<circle cx="58.20" cy="207.70" r="1.5" fill="#000"/>
<circle cx="65.00" cy="207.70" r="1.5" fill="#000"/>
<circle cx="70.50" cy="207.70" r="1.5" fill="#000"/>
<circle cx="75.00" cy="207.70" r="1.5" fill="#000"/>
<circle cx="77.70" cy="207.70" r="1.5" fill="#000"/>
<circle cx="81.90" cy="207.70" r="1.5" fill="#000"/>
<circle cx="114.40" cy="207.70" r="1.5" fill="#000"/>
<circle cx="135.00" cy="218.75" r="1.5" fill="#000"/>
<circle cx="143.10" cy="218.75" r="1.5" fill="#000"/>
<circle cx="168.75" cy="225.50" r="1.5" fill="#000"/>
<circle cx="170.00" cy="225.50" r="1.5" fill="#000"/>
<circle cx="175.60" cy="225.50" r="1.5" fill="#000"/>
<circle cx="181.70" cy="225.50" r="1.5" fill="#000"/>
<circle cx="187.50" cy="225.50" r="1.5" fill="#000"/>
<circle cx="208.20" cy="225.50" r="1.5" fill="#000"/>
<circle cx="215.60" cy="244.60" r="1.5" fill="#000"/>
<circle cx="220.90" cy="244.60" r="1.5" fill="#000"/>
<circle cx="226.20" cy="244.60" r="1.5" fill="#000"/>
<circle cx="48.90" cy="211.40" r="1.5" fill="#000"/>
<circle cx="53.50" cy="211.40" r="1.5" fill="#000"/>
<circle cx="57.40" cy="213.50" r="1.5" fill="#000"/>
<circle cx="62.40" cy="213.50" r="1.5" fill="#000"/>
<circle cx="65.80" cy="213.50" r="1.5" fill="#000"/>
<circle cx="68.90" cy="216.20" r="1.5" fill="#000"/>
<circle cx="77.60" cy="216.20" r="1.5" fill="#000"/>
<circle cx="78.90" cy="216.20" r="1.5" fill="#000"/>
<circle cx="103.10" cy="216.20" r="1.5" fill="#000"/>
<circle cx="109.40" cy="216.20" r="1.5" fill="#000"/>
<circle cx="123.10" cy="221.25" r="1.5" fill="#000"/>
<circle cx="130.00" cy="221.25" r="1.5" fill="#000"/>
<circle cx="145.60" cy="233.10" r="1.5" fill="#000"/>
<circle cx="157.50" cy="233.10" r="1.5" fill="#000"/>
<circle cx="161.90" cy="233.10" r="1.5" fill="#000"/>
<circle cx="167.00" cy="241.40" r="1.5" fill="#000"/>
<circle cx="175.80" cy="241.40" r="1.5" fill="#000"/>
<circle cx="191.25" cy="265.30" r="1.5" fill="#000"/>
<circle cx="205.40" cy="265.30" r="1.5" fill="#000"/>
<circle cx="246.90" cy="265.30" r="1.5" fill="#000"/>
<circle cx="36.40" cy="205.00" r="1.2" fill="#000"/>
<path d="M300.6,205.25 H480.6 V217.4 H492.5" fill="none" stroke="#000" stroke-width="1.1" />
<path d="M303.3,205.3 H432.5" fill="none" stroke="#8a8a8a" stroke-width="1.0" />
<path d="M420,205.3 H432.5 V208.25 H491.9" fill="none" stroke="#777777" stroke-width="0.9" stroke-dasharray="2.2,0.8"/>
<circle cx="381.00" cy="205.30" r="1.45" fill="#5e5e5e"/>
<circle cx="386.20" cy="205.30" r="1.45" fill="#5e5e5e"/>
<circle cx="394.20" cy="205.30" r="1.45" fill="#5e5e5e"/>
<circle cx="400.00" cy="205.30" r="1.45" fill="#5e5e5e"/>
<circle cx="408.50" cy="205.30" r="1.45" fill="#5e5e5e"/>
<circle cx="410.40" cy="205.30" r="1.45" fill="#5e5e5e"/>
<circle cx="415.00" cy="205.30" r="1.45" fill="#5e5e5e"/>
<circle cx="417.30" cy="205.30" r="1.45" fill="#5e5e5e"/>
<circle cx="419.60" cy="205.30" r="1.45" fill="#5e5e5e"/>
<circle cx="421.50" cy="205.30" r="1.45" fill="#5e5e5e"/>
<circle cx="423.50" cy="205.30" r="1.45" fill="#5e5e5e"/>
<circle cx="424.60" cy="205.30" r="1.45" fill="#5e5e5e"/>
<circle cx="426.90" cy="205.30" r="1.45" fill="#5e5e5e"/>
<circle cx="403.50" cy="205.30" r="1.5" fill="#000"/>
<circle cx="430.80" cy="205.30" r="1.5" fill="#000"/>
<circle cx="432.30" cy="205.30" r="1.5" fill="#000"/>
<circle cx="435.00" cy="205.30" r="1.5" fill="#000"/>
<circle cx="439.60" cy="205.30" r="1.5" fill="#000"/>
<circle cx="444.60" cy="205.30" r="1.5" fill="#000"/>
<circle cx="446.50" cy="205.30" r="1.5" fill="#000"/>
<circle cx="448.50" cy="205.30" r="1.5" fill="#000"/>
<circle cx="450.80" cy="205.30" r="1.5" fill="#000"/>
<circle cx="455.00" cy="205.30" r="1.5" fill="#000"/>
<circle cx="312.25" cy="205.50" r="1.4" fill="#5e5e5e"/>
<circle cx="316.00" cy="205.50" r="1.4" fill="#5e5e5e"/>
<circle cx="435.60" cy="208.25" r="1.4" fill="#5e5e5e"/>
<circle cx="438.75" cy="208.25" r="1.4" fill="#5e5e5e"/>
<circle cx="442.50" cy="208.25" r="1.4" fill="#5e5e5e"/>
<circle cx="445.00" cy="208.25" r="1.4" fill="#5e5e5e"/>
<circle cx="451.25" cy="208.25" r="1.4" fill="#5e5e5e"/>
<circle cx="461.25" cy="208.25" r="1.4" fill="#5e5e5e"/>
<circle cx="463.75" cy="208.25" r="1.4" fill="#5e5e5e"/>
<circle cx="466.90" cy="208.25" r="1.4" fill="#5e5e5e"/>
<circle cx="473.75" cy="208.25" r="1.4" fill="#5e5e5e"/>
<circle cx="476.25" cy="208.25" r="1.4" fill="#5e5e5e"/>
<circle cx="483.75" cy="208.25" r="1.4" fill="#5e5e5e"/>
<circle cx="486.25" cy="208.25" r="1.4" fill="#5e5e5e"/>
<circle cx="491.25" cy="208.25" r="1.4" fill="#5e5e5e"/>
<path d="M300.6,205.25 H303.5 V207 H311 L313.5,210.5 H331 V213.25 H429 V216.4 H449.5 V226.5 H512.5" fill="none" stroke="#000" stroke-width="1.1" />
<circle cx="319.75" cy="205.40" r="1.5" fill="#000"/>
<circle cx="321.00" cy="205.40" r="1.5" fill="#000"/>
<circle cx="332.25" cy="205.40" r="1.5" fill="#000"/>
<circle cx="456.25" cy="205.40" r="1.5" fill="#000"/>
<circle cx="471.25" cy="205.40" r="1.5" fill="#000"/>
<circle cx="473.00" cy="205.40" r="1.5" fill="#000"/>
<circle cx="476.90" cy="205.40" r="1.5" fill="#000"/>
<circle cx="481.25" cy="217.40" r="1.5" fill="#000"/>
<circle cx="488.00" cy="217.40" r="1.5" fill="#000"/>
<circle cx="491.25" cy="217.40" r="1.5" fill="#000"/>
<circle cx="322.90" cy="210.50" r="1.5" fill="#000"/>
<circle cx="326.00" cy="210.50" r="1.5" fill="#000"/>
<circle cx="355.40" cy="213.25" r="1.5" fill="#000"/>
<circle cx="371.00" cy="213.25" r="1.5" fill="#000"/>
<circle cx="388.00" cy="213.25" r="1.5" fill="#000"/>
<circle cx="393.50" cy="213.25" r="1.5" fill="#000"/>
<circle cx="406.25" cy="213.25" r="1.5" fill="#000"/>
<circle cx="408.50" cy="213.25" r="1.5" fill="#000"/>
<circle cx="411.00" cy="213.25" r="1.5" fill="#000"/>
<circle cx="416.90" cy="213.25" r="1.5" fill="#000"/>
<circle cx="424.75" cy="213.25" r="1.5" fill="#000"/>
<circle cx="426.90" cy="213.25" r="1.5" fill="#000"/>
<circle cx="431.90" cy="216.40" r="1.5" fill="#000"/>
<circle cx="436.25" cy="216.40" r="1.5" fill="#000"/>
<circle cx="440.00" cy="216.40" r="1.5" fill="#000"/>
<circle cx="446.25" cy="216.40" r="1.5" fill="#000"/>
<circle cx="463.10" cy="226.50" r="1.5" fill="#000"/>
<circle cx="469.40" cy="226.50" r="1.5" fill="#000"/>
<circle cx="473.75" cy="226.50" r="1.5" fill="#000"/>
<circle cx="483.75" cy="226.50" r="1.5" fill="#000"/>
<circle cx="501.25" cy="226.50" r="1.5" fill="#000"/>
<circle cx="506.90" cy="226.50" r="1.5" fill="#000"/>
<circle cx="511.90" cy="226.50" r="1.5" fill="#000"/>
<circle cx="449.80" cy="220.70" r="1.5" fill="#000"/>
</svg>
</body></html>
